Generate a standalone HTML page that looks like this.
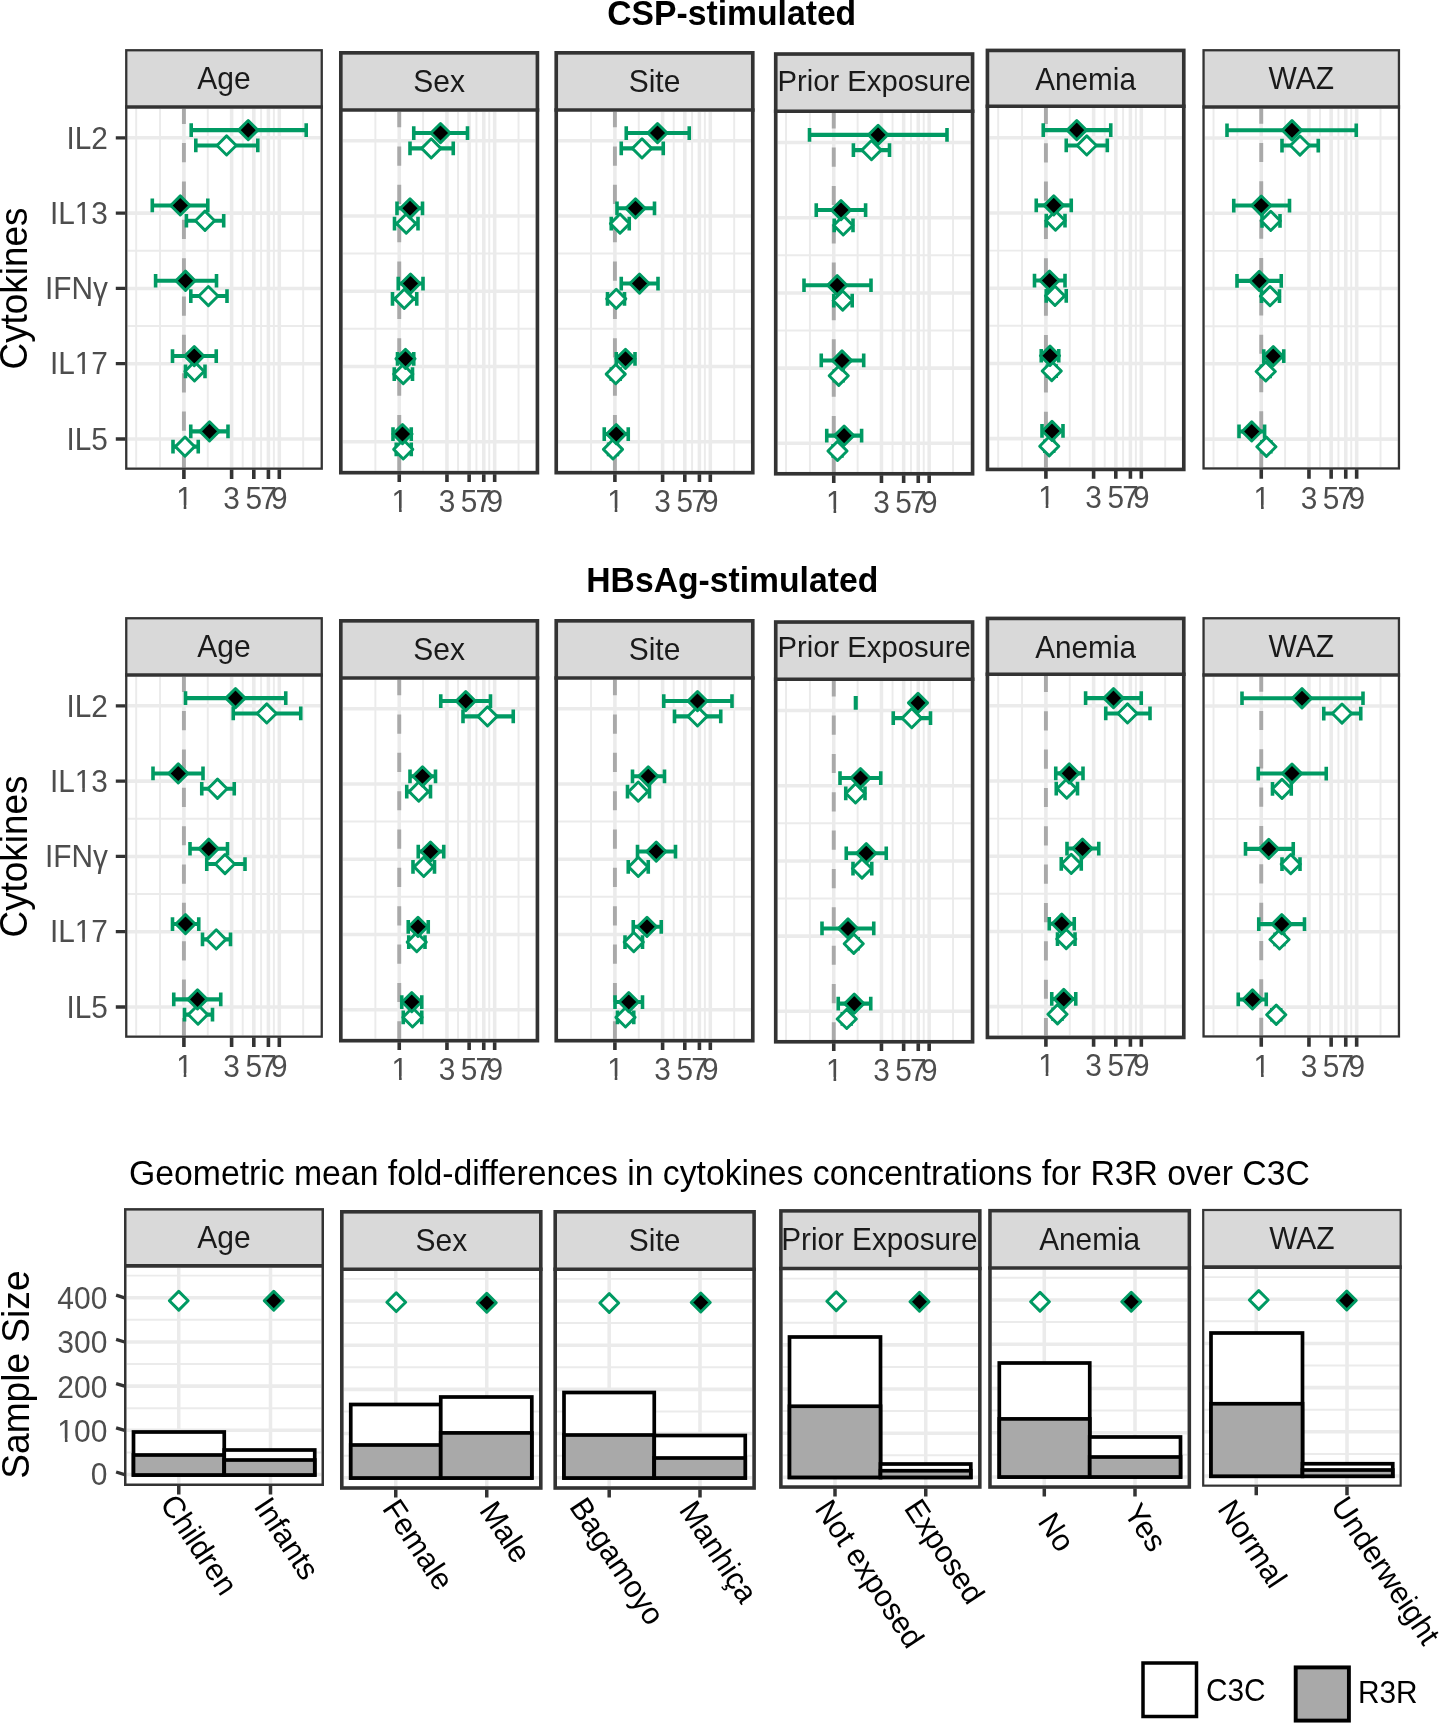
<!DOCTYPE html>
<html><head><meta charset="utf-8"><title>Figure</title>
<style>html,body{margin:0;padding:0;background:#fff}body{width:1440px;height:1723px;overflow:hidden;font-family:"Liberation Sans",sans-serif}svg{display:block;will-change:transform}</style></head>
<body>
<svg width="1440" height="1723" viewBox="0 0 1440 1723" font-family="'Liberation Sans', sans-serif">
<rect width="1440" height="1723" fill="#fff"/>
<text transform="translate(731.75 25) scale(1 1.03)" font-size="33.7" fill="#000" text-anchor="middle" font-weight="bold">CSP-stimulated</text>
<text transform="translate(732.25 592) scale(1 1.03)" font-size="33.7" fill="#000" text-anchor="middle" font-weight="bold">HBsAg-stimulated</text>
<clipPath id="c0Ag"><rect x="127.4" y="108.83" width="193.2" height="358.68"/></clipPath>
<g clip-path="url(#c0Ag)">
<path d="M136.19 108.83V467.5M160.04 108.83V467.5M207.76 108.83V467.5M242.7 108.83V467.5M261.1 108.83V467.5M273.87 108.83V467.5M303.18 108.83V467.5M127.4 250.75H320.6M127.4 326.05H320.6" stroke="#ebebeb" stroke-width="1.95" fill="none"/>
<path d="M183.9 108.83V467.5M231.61 108.83V467.5M253.8 108.83V467.5M268.41 108.83V467.5M279.32 108.83V467.5M127.4 137.8H320.6M127.4 213.1H320.6M127.4 288.4H320.6M127.4 363.7H320.6M127.4 439H320.6" stroke="#ebebeb" stroke-width="3.55" fill="none"/>
<path d="M183.9 469.1V88.83" stroke="#a9a9a9" stroke-width="3.9" stroke-dasharray="19.2 19.15" fill="none"/>
<path d="M191.2 130.15H306.2" fill="none" stroke="#009a63" stroke-width="4.1"/>
<path d="M191.2 123.3V137M306.2 123.3V137" fill="none" stroke="#009a63" stroke-width="3.6"/>
<path d="M195.8 145.45H257.8" fill="none" stroke="#009a63" stroke-width="4.1"/>
<path d="M195.8 138.6V152.3M257.8 138.6V152.3" fill="none" stroke="#009a63" stroke-width="3.6"/>
<path d="M152.3 205.45H207.8" fill="none" stroke="#009a63" stroke-width="4.1"/>
<path d="M152.3 198.6V212.3M207.8 198.6V212.3" fill="none" stroke="#009a63" stroke-width="3.6"/>
<path d="M186.4 220.75H223.7" fill="none" stroke="#009a63" stroke-width="4.1"/>
<path d="M186.4 213.9V227.6M223.7 213.9V227.6" fill="none" stroke="#009a63" stroke-width="3.6"/>
<path d="M155.6 280.75H216.5" fill="none" stroke="#009a63" stroke-width="4.1"/>
<path d="M155.6 273.9V287.6M216.5 273.9V287.6" fill="none" stroke="#009a63" stroke-width="3.6"/>
<path d="M190.8 296.05H227" fill="none" stroke="#009a63" stroke-width="4.1"/>
<path d="M190.8 289.2V302.9M227 289.2V302.9" fill="none" stroke="#009a63" stroke-width="3.6"/>
<path d="M172.5 356.05H216.25" fill="none" stroke="#009a63" stroke-width="4.1"/>
<path d="M172.5 349.2V362.9M216.25 349.2V362.9" fill="none" stroke="#009a63" stroke-width="3.6"/>
<path d="M185.5 371.35H205" fill="none" stroke="#009a63" stroke-width="4.1"/>
<path d="M185.5 364.5V378.2M205 364.5V378.2" fill="none" stroke="#009a63" stroke-width="3.6"/>
<path d="M190.75 431.35H228" fill="none" stroke="#009a63" stroke-width="4.1"/>
<path d="M190.75 424.5V438.2M228 424.5V438.2" fill="none" stroke="#009a63" stroke-width="3.6"/>
<path d="M173 446.65H198.25" fill="none" stroke="#009a63" stroke-width="4.1"/>
<path d="M173 439.8V453.5M198.25 439.8V453.5" fill="none" stroke="#009a63" stroke-width="3.6"/>
<path d="M226.6 135.85L236.2 145.45L226.6 155.05L217 145.45Z" fill="#ffffff" stroke="#009a63" stroke-width="2.9" stroke-linejoin="round"/>
<path d="M205 211.15L214.6 220.75L205 230.35L195.4 220.75Z" fill="#ffffff" stroke="#009a63" stroke-width="2.9" stroke-linejoin="round"/>
<path d="M208.4 286.45L218 296.05L208.4 305.65L198.8 296.05Z" fill="#ffffff" stroke="#009a63" stroke-width="2.9" stroke-linejoin="round"/>
<path d="M194.5 361.75L204.1 371.35L194.5 380.95L184.9 371.35Z" fill="#ffffff" stroke="#009a63" stroke-width="2.9" stroke-linejoin="round"/>
<path d="M185 437.05L194.6 446.65L185 456.25L175.4 446.65Z" fill="#ffffff" stroke="#009a63" stroke-width="2.9" stroke-linejoin="round"/>
<path d="M248.2 120.55L257.8 130.15L248.2 139.75L238.6 130.15Z" fill="#000000" stroke="#009a63" stroke-width="2.9" stroke-linejoin="round"/>
<path d="M180.3 195.85L189.9 205.45L180.3 215.05L170.7 205.45Z" fill="#000000" stroke="#009a63" stroke-width="2.9" stroke-linejoin="round"/>
<path d="M185.5 271.15L195.1 280.75L185.5 290.35L175.9 280.75Z" fill="#000000" stroke="#009a63" stroke-width="2.9" stroke-linejoin="round"/>
<path d="M194.25 346.45L203.85 356.05L194.25 365.65L184.65 356.05Z" fill="#000000" stroke="#009a63" stroke-width="2.9" stroke-linejoin="round"/>
<path d="M209.5 421.75L219.1 431.35L209.5 440.95L199.9 431.35Z" fill="#000000" stroke="#009a63" stroke-width="2.9" stroke-linejoin="round"/>
</g>
<rect x="126.25" y="50.25" width="195.5" height="56.8" fill="#d9d9d9"/>
<rect x="126.25" y="50.25" width="195.5" height="418.4" fill="none" stroke="#333333" stroke-width="2.3"/>
<path d="M125.1 107.05H322.9" stroke="#333333" stroke-width="3.55"/>
<text transform="translate(224 88.7) scale(1 1.03)" font-size="30" fill="#1a1a1a" text-anchor="middle">Age</text>
<path d="M183.9 469.5V479M231.61 469.5V479M253.8 469.5V479M268.41 469.5V479M279.32 469.5V479" stroke="#333333" stroke-width="3.6" fill="none"/>
<text transform="translate(184.5 508.8) scale(1 1.03)" font-size="29.8" fill="#4d4d4d" text-anchor="middle">1</text>
<rect x="176.98" y="505.11" width="6.72" height="4.49" fill="#fff"/>
<rect x="186.34" y="505.11" width="6.49" height="4.49" fill="#fff"/>
<text transform="translate(231.61 508.8) scale(1 1.03)" font-size="29.8" fill="#4d4d4d" text-anchor="middle">3</text>
<text transform="translate(253.8 508.8) scale(1 1.03)" font-size="29.8" fill="#4d4d4d" text-anchor="middle">5</text>
<text transform="translate(268.41 508.8) scale(1 1.03)" font-size="29.8" fill="#4d4d4d" text-anchor="middle">7</text>
<text transform="translate(279.32 508.8) scale(1 1.03)" font-size="29.8" fill="#4d4d4d" text-anchor="middle">9</text>
<clipPath id="c0Se"><rect x="342.65" y="111.78" width="192.95" height="359.08"/></clipPath>
<g clip-path="url(#c0Se)">
<path d="M375.39 111.78V470.85M423.11 111.78V470.85M458.05 111.78V470.85M476.45 111.78V470.85M489.22 111.78V470.85M518.53 111.78V470.85M342.65 253.57H535.6M342.65 328.82H535.6" stroke="#ebebeb" stroke-width="1.95" fill="none"/>
<path d="M399.25 111.78V470.85M446.96 111.78V470.85M469.15 111.78V470.85M483.76 111.78V470.85M494.67 111.78V470.85M342.65 140.7H535.6M342.65 215.95H535.6M342.65 291.2H535.6M342.65 366.45H535.6M342.65 441.7H535.6" stroke="#ebebeb" stroke-width="3.55" fill="none"/>
<path d="M399.25 472.45V91.78" stroke="#a9a9a9" stroke-width="3.9" stroke-dasharray="19.2 19.15" fill="none"/>
<path d="M413.75 133.05H467.5" fill="none" stroke="#009a63" stroke-width="4.1"/>
<path d="M413.75 126.2V139.9M467.5 126.2V139.9" fill="none" stroke="#009a63" stroke-width="3.6"/>
<path d="M410 148.35H453.25" fill="none" stroke="#009a63" stroke-width="4.1"/>
<path d="M410 141.5V155.2M453.25 141.5V155.2" fill="none" stroke="#009a63" stroke-width="3.6"/>
<path d="M397 208.3H422.5" fill="none" stroke="#009a63" stroke-width="4.1"/>
<path d="M397 201.45V215.15M422.5 201.45V215.15" fill="none" stroke="#009a63" stroke-width="3.6"/>
<path d="M394.5 223.6H418" fill="none" stroke="#009a63" stroke-width="4.1"/>
<path d="M394.5 216.75V230.45M418 216.75V230.45" fill="none" stroke="#009a63" stroke-width="3.6"/>
<path d="M398.25 283.55H423" fill="none" stroke="#009a63" stroke-width="4.1"/>
<path d="M398.25 276.7V290.4M423 276.7V290.4" fill="none" stroke="#009a63" stroke-width="3.6"/>
<path d="M392.5 298.85H416.75" fill="none" stroke="#009a63" stroke-width="4.1"/>
<path d="M392.5 292V305.7M416.75 292V305.7" fill="none" stroke="#009a63" stroke-width="3.6"/>
<path d="M397.5 358.8H413.75" fill="none" stroke="#009a63" stroke-width="4.1"/>
<path d="M397.5 351.95V365.65M413.75 351.95V365.65" fill="none" stroke="#009a63" stroke-width="3.6"/>
<path d="M394.25 374.1H412.5" fill="none" stroke="#009a63" stroke-width="4.1"/>
<path d="M394.25 367.25V380.95M412.5 367.25V380.95" fill="none" stroke="#009a63" stroke-width="3.6"/>
<path d="M393 434.05H411.25" fill="none" stroke="#009a63" stroke-width="4.1"/>
<path d="M393 427.2V440.9M411.25 427.2V440.9" fill="none" stroke="#009a63" stroke-width="3.6"/>
<path d="M396.25 449.35H411.25" fill="none" stroke="#009a63" stroke-width="4.1"/>
<path d="M396.25 442.5V456.2M411.25 442.5V456.2" fill="none" stroke="#009a63" stroke-width="3.6"/>
<path d="M431.25 138.75L440.85 148.35L431.25 157.95L421.65 148.35Z" fill="#ffffff" stroke="#009a63" stroke-width="2.9" stroke-linejoin="round"/>
<path d="M406.25 214L415.85 223.6L406.25 233.2L396.65 223.6Z" fill="#ffffff" stroke="#009a63" stroke-width="2.9" stroke-linejoin="round"/>
<path d="M404.25 289.25L413.85 298.85L404.25 308.45L394.65 298.85Z" fill="#ffffff" stroke="#009a63" stroke-width="2.9" stroke-linejoin="round"/>
<path d="M403.25 364.5L412.85 374.1L403.25 383.7L393.65 374.1Z" fill="#ffffff" stroke="#009a63" stroke-width="2.9" stroke-linejoin="round"/>
<path d="M403.25 439.75L412.85 449.35L403.25 458.95L393.65 449.35Z" fill="#ffffff" stroke="#009a63" stroke-width="2.9" stroke-linejoin="round"/>
<path d="M440.5 123.45L450.1 133.05L440.5 142.65L430.9 133.05Z" fill="#000000" stroke="#009a63" stroke-width="2.9" stroke-linejoin="round"/>
<path d="M410 198.7L419.6 208.3L410 217.9L400.4 208.3Z" fill="#000000" stroke="#009a63" stroke-width="2.9" stroke-linejoin="round"/>
<path d="M410.5 273.95L420.1 283.55L410.5 293.15L400.9 283.55Z" fill="#000000" stroke="#009a63" stroke-width="2.9" stroke-linejoin="round"/>
<path d="M405.5 349.2L415.1 358.8L405.5 368.4L395.9 358.8Z" fill="#000000" stroke="#009a63" stroke-width="2.9" stroke-linejoin="round"/>
<path d="M402.5 424.45L412.1 434.05L402.5 443.65L392.9 434.05Z" fill="#000000" stroke="#009a63" stroke-width="2.9" stroke-linejoin="round"/>
</g>
<rect x="340.82" y="52.83" width="196.6" height="57.17" fill="#d9d9d9"/>
<rect x="340.82" y="52.83" width="196.6" height="419.85" fill="none" stroke="#333333" stroke-width="3.65"/>
<path d="M339 110H539.25" stroke="#333333" stroke-width="3.55"/>
<text transform="translate(439.12 91.7) scale(1 1.03)" font-size="30" fill="#1a1a1a" text-anchor="middle">Sex</text>
<path d="M399.25 474.2V482M446.96 474.2V482M469.15 474.2V482M483.76 474.2V482M494.67 474.2V482" stroke="#333333" stroke-width="3.6" fill="none"/>
<text transform="translate(399.85 511.8) scale(1 1.03)" font-size="29.8" fill="#4d4d4d" text-anchor="middle">1</text>
<rect x="392.33" y="508.11" width="6.72" height="4.49" fill="#fff"/>
<rect x="401.69" y="508.11" width="6.49" height="4.49" fill="#fff"/>
<text transform="translate(446.96 511.8) scale(1 1.03)" font-size="29.8" fill="#4d4d4d" text-anchor="middle">3</text>
<text transform="translate(469.15 511.8) scale(1 1.03)" font-size="29.8" fill="#4d4d4d" text-anchor="middle">5</text>
<text transform="translate(483.76 511.8) scale(1 1.03)" font-size="29.8" fill="#4d4d4d" text-anchor="middle">7</text>
<text transform="translate(494.67 511.8) scale(1 1.03)" font-size="29.8" fill="#4d4d4d" text-anchor="middle">9</text>
<clipPath id="c0Si"><rect x="558.05" y="111.78" width="192.9" height="359.08"/></clipPath>
<g clip-path="url(#c0Si)">
<path d="M591.04 111.78V470.85M638.76 111.78V470.85M673.7 111.78V470.85M692.1 111.78V470.85M704.87 111.78V470.85M734.18 111.78V470.85M558.05 253.57H750.95M558.05 328.82H750.95" stroke="#ebebeb" stroke-width="1.95" fill="none"/>
<path d="M614.9 111.78V470.85M662.61 111.78V470.85M684.8 111.78V470.85M699.41 111.78V470.85M710.32 111.78V470.85M558.05 140.7H750.95M558.05 215.95H750.95M558.05 291.2H750.95M558.05 366.45H750.95M558.05 441.7H750.95" stroke="#ebebeb" stroke-width="3.55" fill="none"/>
<path d="M614.9 472.45V91.78" stroke="#a9a9a9" stroke-width="3.9" stroke-dasharray="19.2 19.15" fill="none"/>
<path d="M626.25 133.05H689.25" fill="none" stroke="#009a63" stroke-width="4.1"/>
<path d="M626.25 126.2V139.9M689.25 126.2V139.9" fill="none" stroke="#009a63" stroke-width="3.6"/>
<path d="M621.25 148.35H663.25" fill="none" stroke="#009a63" stroke-width="4.1"/>
<path d="M621.25 141.5V155.2M663.25 141.5V155.2" fill="none" stroke="#009a63" stroke-width="3.6"/>
<path d="M617 208.3H654.5" fill="none" stroke="#009a63" stroke-width="4.1"/>
<path d="M617 201.45V215.15M654.5 201.45V215.15" fill="none" stroke="#009a63" stroke-width="3.6"/>
<path d="M611.25 223.6H629.25" fill="none" stroke="#009a63" stroke-width="4.1"/>
<path d="M611.25 216.75V230.45M629.25 216.75V230.45" fill="none" stroke="#009a63" stroke-width="3.6"/>
<path d="M621.25 283.55H658" fill="none" stroke="#009a63" stroke-width="4.1"/>
<path d="M621.25 276.7V290.4M658 276.7V290.4" fill="none" stroke="#009a63" stroke-width="3.6"/>
<path d="M607.5 298.85H624.5" fill="none" stroke="#009a63" stroke-width="4.1"/>
<path d="M607.5 292V305.7M624.5 292V305.7" fill="none" stroke="#009a63" stroke-width="3.6"/>
<path d="M616.25 358.8H635" fill="none" stroke="#009a63" stroke-width="4.1"/>
<path d="M616.25 351.95V365.65M635 351.95V365.65" fill="none" stroke="#009a63" stroke-width="3.6"/>
<path d="M611.35 374.1H620.15" fill="none" stroke="#009a63" stroke-width="4.1"/>
<path d="M611.35 367.25V380.95M620.15 367.25V380.95" fill="none" stroke="#009a63" stroke-width="3.6"/>
<path d="M604.25 434.05H628.25" fill="none" stroke="#009a63" stroke-width="4.1"/>
<path d="M604.25 427.2V440.9M628.25 427.2V440.9" fill="none" stroke="#009a63" stroke-width="3.6"/>
<path d="M608.6 449.35H617.4" fill="none" stroke="#009a63" stroke-width="4.1"/>
<path d="M608.6 442.5V456.2M617.4 442.5V456.2" fill="none" stroke="#009a63" stroke-width="3.6"/>
<path d="M642 138.75L651.6 148.35L642 157.95L632.4 148.35Z" fill="#ffffff" stroke="#009a63" stroke-width="2.9" stroke-linejoin="round"/>
<path d="M620 214L629.6 223.6L620 233.2L610.4 223.6Z" fill="#ffffff" stroke="#009a63" stroke-width="2.9" stroke-linejoin="round"/>
<path d="M616.25 289.25L625.85 298.85L616.25 308.45L606.65 298.85Z" fill="#ffffff" stroke="#009a63" stroke-width="2.9" stroke-linejoin="round"/>
<path d="M615.75 364.5L625.35 374.1L615.75 383.7L606.15 374.1Z" fill="#ffffff" stroke="#009a63" stroke-width="2.9" stroke-linejoin="round"/>
<path d="M613 439.75L622.6 449.35L613 458.95L603.4 449.35Z" fill="#ffffff" stroke="#009a63" stroke-width="2.9" stroke-linejoin="round"/>
<path d="M657.5 123.45L667.1 133.05L657.5 142.65L647.9 133.05Z" fill="#000000" stroke="#009a63" stroke-width="2.9" stroke-linejoin="round"/>
<path d="M635.5 198.7L645.1 208.3L635.5 217.9L625.9 208.3Z" fill="#000000" stroke="#009a63" stroke-width="2.9" stroke-linejoin="round"/>
<path d="M639.5 273.95L649.1 283.55L639.5 293.15L629.9 283.55Z" fill="#000000" stroke="#009a63" stroke-width="2.9" stroke-linejoin="round"/>
<path d="M625.5 349.2L635.1 358.8L625.5 368.4L615.9 358.8Z" fill="#000000" stroke="#009a63" stroke-width="2.9" stroke-linejoin="round"/>
<path d="M616.25 424.45L625.85 434.05L616.25 443.65L606.65 434.05Z" fill="#000000" stroke="#009a63" stroke-width="2.9" stroke-linejoin="round"/>
</g>
<rect x="556.23" y="52.83" width="196.55" height="57.17" fill="#d9d9d9"/>
<rect x="556.23" y="52.83" width="196.55" height="419.85" fill="none" stroke="#333333" stroke-width="3.65"/>
<path d="M554.4 110H754.6" stroke="#333333" stroke-width="3.55"/>
<text transform="translate(654.5 91.7) scale(1 1.03)" font-size="30" fill="#1a1a1a" text-anchor="middle">Site</text>
<path d="M614.9 474.2V482M662.61 474.2V482M684.8 474.2V482M699.41 474.2V482M710.32 474.2V482" stroke="#333333" stroke-width="3.6" fill="none"/>
<text transform="translate(615.5 511.8) scale(1 1.03)" font-size="29.8" fill="#4d4d4d" text-anchor="middle">1</text>
<rect x="607.98" y="508.11" width="6.72" height="4.49" fill="#fff"/>
<rect x="617.34" y="508.11" width="6.49" height="4.49" fill="#fff"/>
<text transform="translate(662.61 511.8) scale(1 1.03)" font-size="29.8" fill="#4d4d4d" text-anchor="middle">3</text>
<text transform="translate(684.8 511.8) scale(1 1.03)" font-size="29.8" fill="#4d4d4d" text-anchor="middle">5</text>
<text transform="translate(699.41 511.8) scale(1 1.03)" font-size="29.8" fill="#4d4d4d" text-anchor="middle">7</text>
<text transform="translate(710.32 511.8) scale(1 1.03)" font-size="29.8" fill="#4d4d4d" text-anchor="middle">9</text>
<clipPath id="c0Pr"><rect x="777.55" y="112.98" width="193.2" height="358.98"/></clipPath>
<g clip-path="url(#c0Pr)">
<path d="M786.04 112.98V471.95M809.89 112.98V471.95M857.61 112.98V471.95M892.55 112.98V471.95M910.95 112.98V471.95M923.72 112.98V471.95M953.03 112.98V471.95M777.55 255.3H970.75M777.55 330.5H970.75" stroke="#ebebeb" stroke-width="1.95" fill="none"/>
<path d="M833.75 112.98V471.95M881.46 112.98V471.95M903.65 112.98V471.95M918.26 112.98V471.95M929.17 112.98V471.95M777.55 142.5H970.75M777.55 217.7H970.75M777.55 292.9H970.75M777.55 368.1H970.75M777.55 443.3H970.75" stroke="#ebebeb" stroke-width="3.55" fill="none"/>
<path d="M833.75 473.55V92.98" stroke="#a9a9a9" stroke-width="3.9" stroke-dasharray="19.2 19.15" fill="none"/>
<path d="M809.5 134.85H947" fill="none" stroke="#009a63" stroke-width="4.1"/>
<path d="M809.5 128V141.7M947 128V141.7" fill="none" stroke="#009a63" stroke-width="3.6"/>
<path d="M853.4 150.15H889.5" fill="none" stroke="#009a63" stroke-width="4.1"/>
<path d="M853.4 143.3V157M889.5 143.3V157" fill="none" stroke="#009a63" stroke-width="3.6"/>
<path d="M816.25 210.05H865.6" fill="none" stroke="#009a63" stroke-width="4.1"/>
<path d="M816.25 203.2V216.9M865.6 203.2V216.9" fill="none" stroke="#009a63" stroke-width="3.6"/>
<path d="M834.2 225.35H853" fill="none" stroke="#009a63" stroke-width="4.1"/>
<path d="M834.2 218.5V232.2M853 218.5V232.2" fill="none" stroke="#009a63" stroke-width="3.6"/>
<path d="M804 285.25H871" fill="none" stroke="#009a63" stroke-width="4.1"/>
<path d="M804 278.4V292.1M871 278.4V292.1" fill="none" stroke="#009a63" stroke-width="3.6"/>
<path d="M833.75 300.55H852.2" fill="none" stroke="#009a63" stroke-width="4.1"/>
<path d="M833.75 293.7V307.4M852.2 293.7V307.4" fill="none" stroke="#009a63" stroke-width="3.6"/>
<path d="M821.25 360.45H863.7" fill="none" stroke="#009a63" stroke-width="4.1"/>
<path d="M821.25 353.6V367.3M863.7 353.6V367.3" fill="none" stroke="#009a63" stroke-width="3.6"/>
<path d="M834.35 375.75H843.15" fill="none" stroke="#009a63" stroke-width="4.1"/>
<path d="M834.35 368.9V382.6M843.15 368.9V382.6" fill="none" stroke="#009a63" stroke-width="3.6"/>
<path d="M826.75 435.65H861.6" fill="none" stroke="#009a63" stroke-width="4.1"/>
<path d="M826.75 428.8V442.5M861.6 428.8V442.5" fill="none" stroke="#009a63" stroke-width="3.6"/>
<path d="M833.1 450.95H841.9" fill="none" stroke="#009a63" stroke-width="4.1"/>
<path d="M833.1 444.1V457.8M841.9 444.1V457.8" fill="none" stroke="#009a63" stroke-width="3.6"/>
<path d="M871.5 140.55L881.1 150.15L871.5 159.75L861.9 150.15Z" fill="#ffffff" stroke="#009a63" stroke-width="2.9" stroke-linejoin="round"/>
<path d="M843.25 215.75L852.85 225.35L843.25 234.95L833.65 225.35Z" fill="#ffffff" stroke="#009a63" stroke-width="2.9" stroke-linejoin="round"/>
<path d="M842.7 290.95L852.3 300.55L842.7 310.15L833.1 300.55Z" fill="#ffffff" stroke="#009a63" stroke-width="2.9" stroke-linejoin="round"/>
<path d="M838.75 366.15L848.35 375.75L838.75 385.35L829.15 375.75Z" fill="#ffffff" stroke="#009a63" stroke-width="2.9" stroke-linejoin="round"/>
<path d="M837.5 441.35L847.1 450.95L837.5 460.55L827.9 450.95Z" fill="#ffffff" stroke="#009a63" stroke-width="2.9" stroke-linejoin="round"/>
<path d="M878.1 125.25L887.7 134.85L878.1 144.45L868.5 134.85Z" fill="#000000" stroke="#009a63" stroke-width="2.9" stroke-linejoin="round"/>
<path d="M841 200.45L850.6 210.05L841 219.65L831.4 210.05Z" fill="#000000" stroke="#009a63" stroke-width="2.9" stroke-linejoin="round"/>
<path d="M837.2 275.65L846.8 285.25L837.2 294.85L827.6 285.25Z" fill="#000000" stroke="#009a63" stroke-width="2.9" stroke-linejoin="round"/>
<path d="M842 350.85L851.6 360.45L842 370.05L832.4 360.45Z" fill="#000000" stroke="#009a63" stroke-width="2.9" stroke-linejoin="round"/>
<path d="M844.1 426.05L853.7 435.65L844.1 445.25L834.5 435.65Z" fill="#000000" stroke="#009a63" stroke-width="2.9" stroke-linejoin="round"/>
</g>
<rect x="775.73" y="54.03" width="196.85" height="57.17" fill="#d9d9d9"/>
<rect x="775.73" y="54.03" width="196.85" height="419.75" fill="none" stroke="#333333" stroke-width="3.65"/>
<path d="M773.9 111.2H974.4" stroke="#333333" stroke-width="3.55"/>
<text transform="translate(874.15 91.2) scale(1 1.03)" font-size="29.25" fill="#1a1a1a" text-anchor="middle">Prior Exposure</text>
<path d="M833.75 475.3V483.1M881.46 475.3V483.1M903.65 475.3V483.1M918.26 475.3V483.1M929.17 475.3V483.1" stroke="#333333" stroke-width="3.6" fill="none"/>
<text transform="translate(834.35 512.7) scale(1 1.03)" font-size="29.8" fill="#4d4d4d" text-anchor="middle">1</text>
<rect x="826.83" y="509.01" width="6.72" height="4.49" fill="#fff"/>
<rect x="836.19" y="509.01" width="6.49" height="4.49" fill="#fff"/>
<text transform="translate(881.46 512.7) scale(1 1.03)" font-size="29.8" fill="#4d4d4d" text-anchor="middle">3</text>
<text transform="translate(903.65 512.7) scale(1 1.03)" font-size="29.8" fill="#4d4d4d" text-anchor="middle">5</text>
<text transform="translate(918.26 512.7) scale(1 1.03)" font-size="29.8" fill="#4d4d4d" text-anchor="middle">7</text>
<text transform="translate(929.17 512.7) scale(1 1.03)" font-size="29.8" fill="#4d4d4d" text-anchor="middle">9</text>
<clipPath id="c0An"><rect x="989.25" y="108.03" width="192.7" height="359.58"/></clipPath>
<g clip-path="url(#c0An)">
<path d="M998.19 108.03V467.6M1022.04 108.03V467.6M1069.76 108.03V467.6M1104.7 108.03V467.6M1123.1 108.03V467.6M1135.87 108.03V467.6M1165.18 108.03V467.6M989.25 250.6H1181.95M989.25 325.8H1181.95" stroke="#ebebeb" stroke-width="1.95" fill="none"/>
<path d="M1045.9 108.03V467.6M1093.61 108.03V467.6M1115.8 108.03V467.6M1130.41 108.03V467.6M1141.32 108.03V467.6M989.25 137.8H1181.95M989.25 213H1181.95M989.25 288.2H1181.95M989.25 363.4H1181.95M989.25 438.6H1181.95" stroke="#ebebeb" stroke-width="3.55" fill="none"/>
<path d="M1045.9 469.2V88.03" stroke="#a9a9a9" stroke-width="3.9" stroke-dasharray="19.2 19.15" fill="none"/>
<path d="M1043.25 130.15H1110.75" fill="none" stroke="#009a63" stroke-width="4.1"/>
<path d="M1043.25 123.3V137M1110.75 123.3V137" fill="none" stroke="#009a63" stroke-width="3.6"/>
<path d="M1066.25 145.45H1107.3" fill="none" stroke="#009a63" stroke-width="4.1"/>
<path d="M1066.25 138.6V152.3M1107.3 138.6V152.3" fill="none" stroke="#009a63" stroke-width="3.6"/>
<path d="M1036.25 205.35H1071.25" fill="none" stroke="#009a63" stroke-width="4.1"/>
<path d="M1036.25 198.5V212.2M1071.25 198.5V212.2" fill="none" stroke="#009a63" stroke-width="3.6"/>
<path d="M1046.25 220.65H1065" fill="none" stroke="#009a63" stroke-width="4.1"/>
<path d="M1046.25 213.8V227.5M1065 213.8V227.5" fill="none" stroke="#009a63" stroke-width="3.6"/>
<path d="M1034.5 280.55H1065" fill="none" stroke="#009a63" stroke-width="4.1"/>
<path d="M1034.5 273.7V287.4M1065 273.7V287.4" fill="none" stroke="#009a63" stroke-width="3.6"/>
<path d="M1046.25 295.85H1066.25" fill="none" stroke="#009a63" stroke-width="4.1"/>
<path d="M1046.25 289V302.7M1066.25 289V302.7" fill="none" stroke="#009a63" stroke-width="3.6"/>
<path d="M1041.25 355.75H1058.75" fill="none" stroke="#009a63" stroke-width="4.1"/>
<path d="M1041.25 348.9V362.6M1058.75 348.9V362.6" fill="none" stroke="#009a63" stroke-width="3.6"/>
<path d="M1047.35 371.05H1056.15" fill="none" stroke="#009a63" stroke-width="4.1"/>
<path d="M1047.35 364.2V377.9M1056.15 364.2V377.9" fill="none" stroke="#009a63" stroke-width="3.6"/>
<path d="M1042 430.95H1063" fill="none" stroke="#009a63" stroke-width="4.1"/>
<path d="M1042 424.1V437.8M1063 424.1V437.8" fill="none" stroke="#009a63" stroke-width="3.6"/>
<path d="M1044.85 446.25H1053.65" fill="none" stroke="#009a63" stroke-width="4.1"/>
<path d="M1044.85 439.4V453.1M1053.65 439.4V453.1" fill="none" stroke="#009a63" stroke-width="3.6"/>
<path d="M1086.75 135.85L1096.35 145.45L1086.75 155.05L1077.15 145.45Z" fill="#ffffff" stroke="#009a63" stroke-width="2.9" stroke-linejoin="round"/>
<path d="M1055.5 211.05L1065.1 220.65L1055.5 230.25L1045.9 220.65Z" fill="#ffffff" stroke="#009a63" stroke-width="2.9" stroke-linejoin="round"/>
<path d="M1055 286.25L1064.6 295.85L1055 305.45L1045.4 295.85Z" fill="#ffffff" stroke="#009a63" stroke-width="2.9" stroke-linejoin="round"/>
<path d="M1051.75 361.45L1061.35 371.05L1051.75 380.65L1042.15 371.05Z" fill="#ffffff" stroke="#009a63" stroke-width="2.9" stroke-linejoin="round"/>
<path d="M1049.25 436.65L1058.85 446.25L1049.25 455.85L1039.65 446.25Z" fill="#ffffff" stroke="#009a63" stroke-width="2.9" stroke-linejoin="round"/>
<path d="M1076.75 120.55L1086.35 130.15L1076.75 139.75L1067.15 130.15Z" fill="#000000" stroke="#009a63" stroke-width="2.9" stroke-linejoin="round"/>
<path d="M1053.75 195.75L1063.35 205.35L1053.75 214.95L1044.15 205.35Z" fill="#000000" stroke="#009a63" stroke-width="2.9" stroke-linejoin="round"/>
<path d="M1049.5 270.95L1059.1 280.55L1049.5 290.15L1039.9 280.55Z" fill="#000000" stroke="#009a63" stroke-width="2.9" stroke-linejoin="round"/>
<path d="M1050 346.15L1059.6 355.75L1050 365.35L1040.4 355.75Z" fill="#000000" stroke="#009a63" stroke-width="2.9" stroke-linejoin="round"/>
<path d="M1052 421.35L1061.6 430.95L1052 440.55L1042.4 430.95Z" fill="#000000" stroke="#009a63" stroke-width="2.9" stroke-linejoin="round"/>
</g>
<rect x="987.43" y="50.43" width="196.35" height="55.82" fill="#d9d9d9"/>
<rect x="987.43" y="50.43" width="196.35" height="419" fill="none" stroke="#333333" stroke-width="3.65"/>
<path d="M985.6 106.25H1185.6" stroke="#333333" stroke-width="3.55"/>
<text transform="translate(1085.6 89.7) scale(1 1.03)" font-size="29.7" fill="#1a1a1a" text-anchor="middle">Anemia</text>
<path d="M1045.9 470.95V478.75M1093.61 470.95V478.75M1115.8 470.95V478.75M1130.41 470.95V478.75M1141.32 470.95V478.75" stroke="#333333" stroke-width="3.6" fill="none"/>
<text transform="translate(1046.5 508.3) scale(1 1.03)" font-size="29.8" fill="#4d4d4d" text-anchor="middle">1</text>
<rect x="1038.98" y="504.61" width="6.72" height="4.49" fill="#fff"/>
<rect x="1048.34" y="504.61" width="6.49" height="4.49" fill="#fff"/>
<text transform="translate(1093.61 508.3) scale(1 1.03)" font-size="29.8" fill="#4d4d4d" text-anchor="middle">3</text>
<text transform="translate(1115.8 508.3) scale(1 1.03)" font-size="29.8" fill="#4d4d4d" text-anchor="middle">5</text>
<text transform="translate(1130.41 508.3) scale(1 1.03)" font-size="29.8" fill="#4d4d4d" text-anchor="middle">7</text>
<text transform="translate(1141.32 508.3) scale(1 1.03)" font-size="29.8" fill="#4d4d4d" text-anchor="middle">9</text>
<clipPath id="c0WA"><rect x="1204.7" y="108.78" width="193.1" height="358.52"/></clipPath>
<g clip-path="url(#c0WA)">
<path d="M1213.54 108.78V467.3M1237.39 108.78V467.3M1285.11 108.78V467.3M1320.05 108.78V467.3M1338.45 108.78V467.3M1351.22 108.78V467.3M1380.53 108.78V467.3M1204.7 250.85H1397.8M1204.7 326.15H1397.8" stroke="#ebebeb" stroke-width="1.95" fill="none"/>
<path d="M1261.25 108.78V467.3M1308.96 108.78V467.3M1331.15 108.78V467.3M1345.76 108.78V467.3M1356.67 108.78V467.3M1204.7 137.9H1397.8M1204.7 213.2H1397.8M1204.7 288.5H1397.8M1204.7 363.8H1397.8M1204.7 439.1H1397.8" stroke="#ebebeb" stroke-width="3.55" fill="none"/>
<path d="M1261.25 468.9V88.78" stroke="#a9a9a9" stroke-width="3.9" stroke-dasharray="19.2 19.15" fill="none"/>
<path d="M1227 130.25H1356.25" fill="none" stroke="#009a63" stroke-width="4.1"/>
<path d="M1227 123.4V137.1M1356.25 123.4V137.1" fill="none" stroke="#009a63" stroke-width="3.6"/>
<path d="M1282 145.55H1318.25" fill="none" stroke="#009a63" stroke-width="4.1"/>
<path d="M1282 138.7V152.4M1318.25 138.7V152.4" fill="none" stroke="#009a63" stroke-width="3.6"/>
<path d="M1233.75 205.55H1289.5" fill="none" stroke="#009a63" stroke-width="4.1"/>
<path d="M1233.75 198.7V212.4M1289.5 198.7V212.4" fill="none" stroke="#009a63" stroke-width="3.6"/>
<path d="M1262 220.85H1280" fill="none" stroke="#009a63" stroke-width="4.1"/>
<path d="M1262 214V227.7M1280 214V227.7" fill="none" stroke="#009a63" stroke-width="3.6"/>
<path d="M1237 280.85H1281.25" fill="none" stroke="#009a63" stroke-width="4.1"/>
<path d="M1237 274V287.7M1281.25 274V287.7" fill="none" stroke="#009a63" stroke-width="3.6"/>
<path d="M1261.5 296.15H1279.5" fill="none" stroke="#009a63" stroke-width="4.1"/>
<path d="M1261.5 289.3V303M1279.5 289.3V303" fill="none" stroke="#009a63" stroke-width="3.6"/>
<path d="M1263.75 356.15H1283.75" fill="none" stroke="#009a63" stroke-width="4.1"/>
<path d="M1263.75 349.3V363M1283.75 349.3V363" fill="none" stroke="#009a63" stroke-width="3.6"/>
<path d="M1261.35 371.45H1270.15" fill="none" stroke="#009a63" stroke-width="4.1"/>
<path d="M1261.35 364.6V378.3M1270.15 364.6V378.3" fill="none" stroke="#009a63" stroke-width="3.6"/>
<path d="M1239 431.45H1264.6" fill="none" stroke="#009a63" stroke-width="4.1"/>
<path d="M1239 424.6V438.3M1264.6 424.6V438.3" fill="none" stroke="#009a63" stroke-width="3.6"/>
<path d="M1262 446.75H1270.8" fill="none" stroke="#009a63" stroke-width="4.1"/>
<path d="M1262 439.9V453.6M1270.8 439.9V453.6" fill="none" stroke="#009a63" stroke-width="3.6"/>
<path d="M1300 135.95L1309.6 145.55L1300 155.15L1290.4 145.55Z" fill="#ffffff" stroke="#009a63" stroke-width="2.9" stroke-linejoin="round"/>
<path d="M1270.75 211.25L1280.35 220.85L1270.75 230.45L1261.15 220.85Z" fill="#ffffff" stroke="#009a63" stroke-width="2.9" stroke-linejoin="round"/>
<path d="M1270 286.55L1279.6 296.15L1270 305.75L1260.4 296.15Z" fill="#ffffff" stroke="#009a63" stroke-width="2.9" stroke-linejoin="round"/>
<path d="M1265.75 361.85L1275.35 371.45L1265.75 381.05L1256.15 371.45Z" fill="#ffffff" stroke="#009a63" stroke-width="2.9" stroke-linejoin="round"/>
<path d="M1266.4 437.15L1276 446.75L1266.4 456.35L1256.8 446.75Z" fill="#ffffff" stroke="#009a63" stroke-width="2.9" stroke-linejoin="round"/>
<path d="M1292 120.65L1301.6 130.25L1292 139.85L1282.4 130.25Z" fill="#000000" stroke="#009a63" stroke-width="2.9" stroke-linejoin="round"/>
<path d="M1261.25 195.95L1270.85 205.55L1261.25 215.15L1251.65 205.55Z" fill="#000000" stroke="#009a63" stroke-width="2.9" stroke-linejoin="round"/>
<path d="M1259.25 271.25L1268.85 280.85L1259.25 290.45L1249.65 280.85Z" fill="#000000" stroke="#009a63" stroke-width="2.9" stroke-linejoin="round"/>
<path d="M1273.25 346.55L1282.85 356.15L1273.25 365.75L1263.65 356.15Z" fill="#000000" stroke="#009a63" stroke-width="2.9" stroke-linejoin="round"/>
<path d="M1251.7 421.85L1261.3 431.45L1251.7 441.05L1242.1 431.45Z" fill="#000000" stroke="#009a63" stroke-width="2.9" stroke-linejoin="round"/>
</g>
<rect x="1203.55" y="50.25" width="195.4" height="56.75" fill="#d9d9d9"/>
<rect x="1203.55" y="50.25" width="195.4" height="418.2" fill="none" stroke="#333333" stroke-width="2.3"/>
<path d="M1202.4 107H1400.1" stroke="#333333" stroke-width="3.55"/>
<text transform="translate(1301.25 89.3) scale(1 1.03)" font-size="30" fill="#1a1a1a" text-anchor="middle">WAZ</text>
<path d="M1261.25 469.3V478.8M1308.96 469.3V478.8M1331.15 469.3V478.8M1345.76 469.3V478.8M1356.67 469.3V478.8" stroke="#333333" stroke-width="3.6" fill="none"/>
<text transform="translate(1261.85 508.5) scale(1 1.03)" font-size="29.8" fill="#4d4d4d" text-anchor="middle">1</text>
<rect x="1254.33" y="504.81" width="6.72" height="4.49" fill="#fff"/>
<rect x="1263.69" y="504.81" width="6.49" height="4.49" fill="#fff"/>
<text transform="translate(1308.96 508.5) scale(1 1.03)" font-size="29.8" fill="#4d4d4d" text-anchor="middle">3</text>
<text transform="translate(1331.15 508.5) scale(1 1.03)" font-size="29.8" fill="#4d4d4d" text-anchor="middle">5</text>
<text transform="translate(1345.76 508.5) scale(1 1.03)" font-size="29.8" fill="#4d4d4d" text-anchor="middle">7</text>
<text transform="translate(1356.67 508.5) scale(1 1.03)" font-size="29.8" fill="#4d4d4d" text-anchor="middle">9</text>
<path d="M115.8 137.8H125.4M115.8 213.1H125.4M115.8 288.4H125.4M115.8 363.7H125.4M115.8 439H125.4" stroke="#333333" stroke-width="3.3" fill="none"/>
<text transform="translate(107.9 148.5) scale(1 1.03)" font-size="29.8" fill="#4d4d4d" text-anchor="end">IL2</text>
<text transform="translate(107.9 223.8) scale(1 1.03)" font-size="29.8" fill="#4d4d4d" text-anchor="end">IL13</text>
<rect x="75.52" y="220.11" width="6.72" height="4.49" fill="#fff"/>
<rect x="84.88" y="220.11" width="6.49" height="4.49" fill="#fff"/>
<text transform="translate(107.9 299.1) scale(1 1.03)" font-size="29.8" fill="#4d4d4d" text-anchor="end">IFNγ</text>
<text transform="translate(107.9 374.4) scale(1 1.03)" font-size="29.8" fill="#4d4d4d" text-anchor="end">IL17</text>
<rect x="75.52" y="370.71" width="6.72" height="4.49" fill="#fff"/>
<rect x="84.88" y="370.71" width="6.49" height="4.49" fill="#fff"/>
<text transform="translate(107.9 449.7) scale(1 1.03)" font-size="29.8" fill="#4d4d4d" text-anchor="end">IL5</text>
<text transform="translate(27.2 288.5) rotate(-90) scale(1 1.03)" font-size="36.9" fill="#000" text-anchor="middle">Cytokines</text>
<clipPath id="c1Ag"><rect x="127.4" y="676.82" width="193.2" height="358.68"/></clipPath>
<g clip-path="url(#c1Ag)">
<path d="M136.19 676.82V1035.5M160.04 676.82V1035.5M207.76 676.82V1035.5M242.7 676.82V1035.5M261.1 676.82V1035.5M273.87 676.82V1035.5M303.18 676.82V1035.5M127.4 818.75H320.6M127.4 894.05H320.6" stroke="#ebebeb" stroke-width="1.95" fill="none"/>
<path d="M183.9 676.82V1035.5M231.61 676.82V1035.5M253.8 676.82V1035.5M268.41 676.82V1035.5M279.32 676.82V1035.5M127.4 705.8H320.6M127.4 781.1H320.6M127.4 856.4H320.6M127.4 931.7H320.6M127.4 1007H320.6" stroke="#ebebeb" stroke-width="3.55" fill="none"/>
<path d="M183.9 1037.1V656.82" stroke="#a9a9a9" stroke-width="3.9" stroke-dasharray="19.2 19.15" fill="none"/>
<path d="M185.5 698.15H285.75" fill="none" stroke="#009a63" stroke-width="4.1"/>
<path d="M185.5 691.3V705M285.75 691.3V705" fill="none" stroke="#009a63" stroke-width="3.6"/>
<path d="M233.25 713.45H300.75" fill="none" stroke="#009a63" stroke-width="4.1"/>
<path d="M233.25 706.6V720.3M300.75 706.6V720.3" fill="none" stroke="#009a63" stroke-width="3.6"/>
<path d="M153 773.45H203" fill="none" stroke="#009a63" stroke-width="4.1"/>
<path d="M153 766.6V780.3M203 766.6V780.3" fill="none" stroke="#009a63" stroke-width="3.6"/>
<path d="M201.75 788.75H234.25" fill="none" stroke="#009a63" stroke-width="4.1"/>
<path d="M201.75 781.9V795.6M234.25 781.9V795.6" fill="none" stroke="#009a63" stroke-width="3.6"/>
<path d="M190 848.75H227.5" fill="none" stroke="#009a63" stroke-width="4.1"/>
<path d="M190 841.9V855.6M227.5 841.9V855.6" fill="none" stroke="#009a63" stroke-width="3.6"/>
<path d="M206.75 864.05H245" fill="none" stroke="#009a63" stroke-width="4.1"/>
<path d="M206.75 857.2V870.9M245 857.2V870.9" fill="none" stroke="#009a63" stroke-width="3.6"/>
<path d="M172.5 924.05H198.75" fill="none" stroke="#009a63" stroke-width="4.1"/>
<path d="M172.5 917.2V930.9M198.75 917.2V930.9" fill="none" stroke="#009a63" stroke-width="3.6"/>
<path d="M202.5 939.35H230.5" fill="none" stroke="#009a63" stroke-width="4.1"/>
<path d="M202.5 932.5V946.2M230.5 932.5V946.2" fill="none" stroke="#009a63" stroke-width="3.6"/>
<path d="M173.75 999.35H220.75" fill="none" stroke="#009a63" stroke-width="4.1"/>
<path d="M173.75 992.5V1006.2M220.75 992.5V1006.2" fill="none" stroke="#009a63" stroke-width="3.6"/>
<path d="M184.5 1014.65H212.5" fill="none" stroke="#009a63" stroke-width="4.1"/>
<path d="M184.5 1007.8V1021.5M212.5 1007.8V1021.5" fill="none" stroke="#009a63" stroke-width="3.6"/>
<path d="M266.75 703.85L276.35 713.45L266.75 723.05L257.15 713.45Z" fill="#ffffff" stroke="#009a63" stroke-width="2.9" stroke-linejoin="round"/>
<path d="M217.5 779.15L227.1 788.75L217.5 798.35L207.9 788.75Z" fill="#ffffff" stroke="#009a63" stroke-width="2.9" stroke-linejoin="round"/>
<path d="M225 854.45L234.6 864.05L225 873.65L215.4 864.05Z" fill="#ffffff" stroke="#009a63" stroke-width="2.9" stroke-linejoin="round"/>
<path d="M216.25 929.75L225.85 939.35L216.25 948.95L206.65 939.35Z" fill="#ffffff" stroke="#009a63" stroke-width="2.9" stroke-linejoin="round"/>
<path d="M198 1005.05L207.6 1014.65L198 1024.25L188.4 1014.65Z" fill="#ffffff" stroke="#009a63" stroke-width="2.9" stroke-linejoin="round"/>
<path d="M235.5 688.55L245.1 698.15L235.5 707.75L225.9 698.15Z" fill="#000000" stroke="#009a63" stroke-width="2.9" stroke-linejoin="round"/>
<path d="M178.25 763.85L187.85 773.45L178.25 783.05L168.65 773.45Z" fill="#000000" stroke="#009a63" stroke-width="2.9" stroke-linejoin="round"/>
<path d="M208.75 839.15L218.35 848.75L208.75 858.35L199.15 848.75Z" fill="#000000" stroke="#009a63" stroke-width="2.9" stroke-linejoin="round"/>
<path d="M185.5 914.45L195.1 924.05L185.5 933.65L175.9 924.05Z" fill="#000000" stroke="#009a63" stroke-width="2.9" stroke-linejoin="round"/>
<path d="M197.5 989.75L207.1 999.35L197.5 1008.95L187.9 999.35Z" fill="#000000" stroke="#009a63" stroke-width="2.9" stroke-linejoin="round"/>
</g>
<rect x="126.25" y="618.25" width="195.5" height="56.8" fill="#d9d9d9"/>
<rect x="126.25" y="618.25" width="195.5" height="418.4" fill="none" stroke="#333333" stroke-width="2.3"/>
<path d="M125.1 675.05H322.9" stroke="#333333" stroke-width="3.55"/>
<text transform="translate(224 656.7) scale(1 1.03)" font-size="30" fill="#1a1a1a" text-anchor="middle">Age</text>
<path d="M183.9 1037.5V1047M231.61 1037.5V1047M253.8 1037.5V1047M268.41 1037.5V1047M279.32 1037.5V1047" stroke="#333333" stroke-width="3.6" fill="none"/>
<text transform="translate(184.5 1076.8) scale(1 1.03)" font-size="29.8" fill="#4d4d4d" text-anchor="middle">1</text>
<rect x="176.98" y="1073.11" width="6.72" height="4.49" fill="#fff"/>
<rect x="186.34" y="1073.11" width="6.49" height="4.49" fill="#fff"/>
<text transform="translate(231.61 1076.8) scale(1 1.03)" font-size="29.8" fill="#4d4d4d" text-anchor="middle">3</text>
<text transform="translate(253.8 1076.8) scale(1 1.03)" font-size="29.8" fill="#4d4d4d" text-anchor="middle">5</text>
<text transform="translate(268.41 1076.8) scale(1 1.03)" font-size="29.8" fill="#4d4d4d" text-anchor="middle">7</text>
<text transform="translate(279.32 1076.8) scale(1 1.03)" font-size="29.8" fill="#4d4d4d" text-anchor="middle">9</text>
<clipPath id="c1Se"><rect x="342.65" y="679.77" width="192.95" height="359.07"/></clipPath>
<g clip-path="url(#c1Se)">
<path d="M375.39 679.77V1038.85M423.11 679.77V1038.85M458.05 679.77V1038.85M476.45 679.77V1038.85M489.22 679.77V1038.85M518.53 679.77V1038.85M342.65 821.58H535.6M342.65 896.83H535.6" stroke="#ebebeb" stroke-width="1.95" fill="none"/>
<path d="M399.25 679.77V1038.85M446.96 679.77V1038.85M469.15 679.77V1038.85M483.76 679.77V1038.85M494.67 679.77V1038.85M342.65 708.7H535.6M342.65 783.95H535.6M342.65 859.2H535.6M342.65 934.45H535.6M342.65 1009.7H535.6" stroke="#ebebeb" stroke-width="3.55" fill="none"/>
<path d="M399.25 1040.45V659.77" stroke="#a9a9a9" stroke-width="3.9" stroke-dasharray="19.2 19.15" fill="none"/>
<path d="M440.75 701.05H490.5" fill="none" stroke="#009a63" stroke-width="4.1"/>
<path d="M440.75 694.2V707.9M490.5 694.2V707.9" fill="none" stroke="#009a63" stroke-width="3.6"/>
<path d="M463 716.35H513.25" fill="none" stroke="#009a63" stroke-width="4.1"/>
<path d="M463 709.5V723.2M513.25 709.5V723.2" fill="none" stroke="#009a63" stroke-width="3.6"/>
<path d="M410 776.3H435.5" fill="none" stroke="#009a63" stroke-width="4.1"/>
<path d="M410 769.45V783.15M435.5 769.45V783.15" fill="none" stroke="#009a63" stroke-width="3.6"/>
<path d="M406.75 791.6H430.5" fill="none" stroke="#009a63" stroke-width="4.1"/>
<path d="M406.75 784.75V798.45M430.5 784.75V798.45" fill="none" stroke="#009a63" stroke-width="3.6"/>
<path d="M418.25 851.55H443.75" fill="none" stroke="#009a63" stroke-width="4.1"/>
<path d="M418.25 844.7V858.4M443.75 844.7V858.4" fill="none" stroke="#009a63" stroke-width="3.6"/>
<path d="M413 866.85H434.5" fill="none" stroke="#009a63" stroke-width="4.1"/>
<path d="M413 860V873.7M434.5 860V873.7" fill="none" stroke="#009a63" stroke-width="3.6"/>
<path d="M408.25 926.8H428.25" fill="none" stroke="#009a63" stroke-width="4.1"/>
<path d="M408.25 919.95V933.65M428.25 919.95V933.65" fill="none" stroke="#009a63" stroke-width="3.6"/>
<path d="M408.75 942.1H425" fill="none" stroke="#009a63" stroke-width="4.1"/>
<path d="M408.75 935.25V948.95M425 935.25V948.95" fill="none" stroke="#009a63" stroke-width="3.6"/>
<path d="M401.75 1002.05H421.75" fill="none" stroke="#009a63" stroke-width="4.1"/>
<path d="M401.75 995.2V1008.9M421.75 995.2V1008.9" fill="none" stroke="#009a63" stroke-width="3.6"/>
<path d="M403.25 1017.35H421.75" fill="none" stroke="#009a63" stroke-width="4.1"/>
<path d="M403.25 1010.5V1024.2M421.75 1010.5V1024.2" fill="none" stroke="#009a63" stroke-width="3.6"/>
<path d="M487.5 706.75L497.1 716.35L487.5 725.95L477.9 716.35Z" fill="#ffffff" stroke="#009a63" stroke-width="2.9" stroke-linejoin="round"/>
<path d="M418.75 782L428.35 791.6L418.75 801.2L409.15 791.6Z" fill="#ffffff" stroke="#009a63" stroke-width="2.9" stroke-linejoin="round"/>
<path d="M423.75 857.25L433.35 866.85L423.75 876.45L414.15 866.85Z" fill="#ffffff" stroke="#009a63" stroke-width="2.9" stroke-linejoin="round"/>
<path d="M416.75 932.5L426.35 942.1L416.75 951.7L407.15 942.1Z" fill="#ffffff" stroke="#009a63" stroke-width="2.9" stroke-linejoin="round"/>
<path d="M412.5 1007.75L422.1 1017.35L412.5 1026.95L402.9 1017.35Z" fill="#ffffff" stroke="#009a63" stroke-width="2.9" stroke-linejoin="round"/>
<path d="M465.75 691.45L475.35 701.05L465.75 710.65L456.15 701.05Z" fill="#000000" stroke="#009a63" stroke-width="2.9" stroke-linejoin="round"/>
<path d="M422.5 766.7L432.1 776.3L422.5 785.9L412.9 776.3Z" fill="#000000" stroke="#009a63" stroke-width="2.9" stroke-linejoin="round"/>
<path d="M430.5 841.95L440.1 851.55L430.5 861.15L420.9 851.55Z" fill="#000000" stroke="#009a63" stroke-width="2.9" stroke-linejoin="round"/>
<path d="M418 917.2L427.6 926.8L418 936.4L408.4 926.8Z" fill="#000000" stroke="#009a63" stroke-width="2.9" stroke-linejoin="round"/>
<path d="M411.75 992.45L421.35 1002.05L411.75 1011.65L402.15 1002.05Z" fill="#000000" stroke="#009a63" stroke-width="2.9" stroke-linejoin="round"/>
</g>
<rect x="340.82" y="620.83" width="196.6" height="57.17" fill="#d9d9d9"/>
<rect x="340.82" y="620.83" width="196.6" height="419.85" fill="none" stroke="#333333" stroke-width="3.65"/>
<path d="M339 678H539.25" stroke="#333333" stroke-width="3.55"/>
<text transform="translate(439.12 659.7) scale(1 1.03)" font-size="30" fill="#1a1a1a" text-anchor="middle">Sex</text>
<path d="M399.25 1042.2V1050M446.96 1042.2V1050M469.15 1042.2V1050M483.76 1042.2V1050M494.67 1042.2V1050" stroke="#333333" stroke-width="3.6" fill="none"/>
<text transform="translate(399.85 1079.8) scale(1 1.03)" font-size="29.8" fill="#4d4d4d" text-anchor="middle">1</text>
<rect x="392.33" y="1076.11" width="6.72" height="4.49" fill="#fff"/>
<rect x="401.69" y="1076.11" width="6.49" height="4.49" fill="#fff"/>
<text transform="translate(446.96 1079.8) scale(1 1.03)" font-size="29.8" fill="#4d4d4d" text-anchor="middle">3</text>
<text transform="translate(469.15 1079.8) scale(1 1.03)" font-size="29.8" fill="#4d4d4d" text-anchor="middle">5</text>
<text transform="translate(483.76 1079.8) scale(1 1.03)" font-size="29.8" fill="#4d4d4d" text-anchor="middle">7</text>
<text transform="translate(494.67 1079.8) scale(1 1.03)" font-size="29.8" fill="#4d4d4d" text-anchor="middle">9</text>
<clipPath id="c1Si"><rect x="558.05" y="679.77" width="192.9" height="359.07"/></clipPath>
<g clip-path="url(#c1Si)">
<path d="M591.04 679.77V1038.85M638.76 679.77V1038.85M673.7 679.77V1038.85M692.1 679.77V1038.85M704.87 679.77V1038.85M734.18 679.77V1038.85M558.05 821.58H750.95M558.05 896.83H750.95" stroke="#ebebeb" stroke-width="1.95" fill="none"/>
<path d="M614.9 679.77V1038.85M662.61 679.77V1038.85M684.8 679.77V1038.85M699.41 679.77V1038.85M710.32 679.77V1038.85M558.05 708.7H750.95M558.05 783.95H750.95M558.05 859.2H750.95M558.05 934.45H750.95M558.05 1009.7H750.95" stroke="#ebebeb" stroke-width="3.55" fill="none"/>
<path d="M614.9 1040.45V659.77" stroke="#a9a9a9" stroke-width="3.9" stroke-dasharray="19.2 19.15" fill="none"/>
<path d="M663.75 701.05H732" fill="none" stroke="#009a63" stroke-width="4.1"/>
<path d="M663.75 694.2V707.9M732 694.2V707.9" fill="none" stroke="#009a63" stroke-width="3.6"/>
<path d="M674.5 716.35H720.75" fill="none" stroke="#009a63" stroke-width="4.1"/>
<path d="M674.5 709.5V723.2M720.75 709.5V723.2" fill="none" stroke="#009a63" stroke-width="3.6"/>
<path d="M632.5 776.3H664.5" fill="none" stroke="#009a63" stroke-width="4.1"/>
<path d="M632.5 769.45V783.15M664.5 769.45V783.15" fill="none" stroke="#009a63" stroke-width="3.6"/>
<path d="M627.5 791.6H649.5" fill="none" stroke="#009a63" stroke-width="4.1"/>
<path d="M627.5 784.75V798.45M649.5 784.75V798.45" fill="none" stroke="#009a63" stroke-width="3.6"/>
<path d="M637.5 851.55H675.5" fill="none" stroke="#009a63" stroke-width="4.1"/>
<path d="M637.5 844.7V858.4M675.5 844.7V858.4" fill="none" stroke="#009a63" stroke-width="3.6"/>
<path d="M628.25 866.85H648.25" fill="none" stroke="#009a63" stroke-width="4.1"/>
<path d="M628.25 860V873.7M648.25 860V873.7" fill="none" stroke="#009a63" stroke-width="3.6"/>
<path d="M633.25 926.8H661.25" fill="none" stroke="#009a63" stroke-width="4.1"/>
<path d="M633.25 919.95V933.65M661.25 919.95V933.65" fill="none" stroke="#009a63" stroke-width="3.6"/>
<path d="M625 942.1H642.5" fill="none" stroke="#009a63" stroke-width="4.1"/>
<path d="M625 935.25V948.95M642.5 935.25V948.95" fill="none" stroke="#009a63" stroke-width="3.6"/>
<path d="M615 1002.05H642.5" fill="none" stroke="#009a63" stroke-width="4.1"/>
<path d="M615 995.2V1008.9M642.5 995.2V1008.9" fill="none" stroke="#009a63" stroke-width="3.6"/>
<path d="M617.5 1017.35H633.75" fill="none" stroke="#009a63" stroke-width="4.1"/>
<path d="M617.5 1010.5V1024.2M633.75 1010.5V1024.2" fill="none" stroke="#009a63" stroke-width="3.6"/>
<path d="M697.5 706.75L707.1 716.35L697.5 725.95L687.9 716.35Z" fill="#ffffff" stroke="#009a63" stroke-width="2.9" stroke-linejoin="round"/>
<path d="M638.25 782L647.85 791.6L638.25 801.2L628.65 791.6Z" fill="#ffffff" stroke="#009a63" stroke-width="2.9" stroke-linejoin="round"/>
<path d="M638.25 857.25L647.85 866.85L638.25 876.45L628.65 866.85Z" fill="#ffffff" stroke="#009a63" stroke-width="2.9" stroke-linejoin="round"/>
<path d="M633.75 932.5L643.35 942.1L633.75 951.7L624.15 942.1Z" fill="#ffffff" stroke="#009a63" stroke-width="2.9" stroke-linejoin="round"/>
<path d="M625.5 1007.75L635.1 1017.35L625.5 1026.95L615.9 1017.35Z" fill="#ffffff" stroke="#009a63" stroke-width="2.9" stroke-linejoin="round"/>
<path d="M697.5 691.45L707.1 701.05L697.5 710.65L687.9 701.05Z" fill="#000000" stroke="#009a63" stroke-width="2.9" stroke-linejoin="round"/>
<path d="M648.25 766.7L657.85 776.3L648.25 785.9L638.65 776.3Z" fill="#000000" stroke="#009a63" stroke-width="2.9" stroke-linejoin="round"/>
<path d="M656.25 841.95L665.85 851.55L656.25 861.15L646.65 851.55Z" fill="#000000" stroke="#009a63" stroke-width="2.9" stroke-linejoin="round"/>
<path d="M647 917.2L656.6 926.8L647 936.4L637.4 926.8Z" fill="#000000" stroke="#009a63" stroke-width="2.9" stroke-linejoin="round"/>
<path d="M628.75 992.45L638.35 1002.05L628.75 1011.65L619.15 1002.05Z" fill="#000000" stroke="#009a63" stroke-width="2.9" stroke-linejoin="round"/>
</g>
<rect x="556.23" y="620.83" width="196.55" height="57.17" fill="#d9d9d9"/>
<rect x="556.23" y="620.83" width="196.55" height="419.85" fill="none" stroke="#333333" stroke-width="3.65"/>
<path d="M554.4 678H754.6" stroke="#333333" stroke-width="3.55"/>
<text transform="translate(654.5 659.7) scale(1 1.03)" font-size="30" fill="#1a1a1a" text-anchor="middle">Site</text>
<path d="M614.9 1042.2V1050M662.61 1042.2V1050M684.8 1042.2V1050M699.41 1042.2V1050M710.32 1042.2V1050" stroke="#333333" stroke-width="3.6" fill="none"/>
<text transform="translate(615.5 1079.8) scale(1 1.03)" font-size="29.8" fill="#4d4d4d" text-anchor="middle">1</text>
<rect x="607.98" y="1076.11" width="6.72" height="4.49" fill="#fff"/>
<rect x="617.34" y="1076.11" width="6.49" height="4.49" fill="#fff"/>
<text transform="translate(662.61 1079.8) scale(1 1.03)" font-size="29.8" fill="#4d4d4d" text-anchor="middle">3</text>
<text transform="translate(684.8 1079.8) scale(1 1.03)" font-size="29.8" fill="#4d4d4d" text-anchor="middle">5</text>
<text transform="translate(699.41 1079.8) scale(1 1.03)" font-size="29.8" fill="#4d4d4d" text-anchor="middle">7</text>
<text transform="translate(710.32 1079.8) scale(1 1.03)" font-size="29.8" fill="#4d4d4d" text-anchor="middle">9</text>
<clipPath id="c1Pr"><rect x="777.55" y="680.98" width="193.2" height="358.97"/></clipPath>
<g clip-path="url(#c1Pr)">
<path d="M786.04 680.98V1039.95M809.89 680.98V1039.95M857.61 680.98V1039.95M892.55 680.98V1039.95M910.95 680.98V1039.95M923.72 680.98V1039.95M953.03 680.98V1039.95M777.55 823.3H970.75M777.55 898.5H970.75" stroke="#ebebeb" stroke-width="1.95" fill="none"/>
<path d="M833.75 680.98V1039.95M881.46 680.98V1039.95M903.65 680.98V1039.95M918.26 680.98V1039.95M929.17 680.98V1039.95M777.55 710.5H970.75M777.55 785.7H970.75M777.55 860.9H970.75M777.55 936.1H970.75M777.55 1011.3H970.75" stroke="#ebebeb" stroke-width="3.55" fill="none"/>
<path d="M833.75 1041.55V660.98" stroke="#a9a9a9" stroke-width="3.9" stroke-dasharray="19.2 19.15" fill="none"/>
<path d="M855.75 696V709.7" stroke="#009a63" stroke-width="4.1"/>
<path d="M893.25 718.15H930.5" fill="none" stroke="#009a63" stroke-width="4.1"/>
<path d="M893.25 711.3V725M930.5 711.3V725" fill="none" stroke="#009a63" stroke-width="3.6"/>
<path d="M840 778.05H880.75" fill="none" stroke="#009a63" stroke-width="4.1"/>
<path d="M840 771.2V784.9M880.75 771.2V784.9" fill="none" stroke="#009a63" stroke-width="3.6"/>
<path d="M845.75 793.35H865" fill="none" stroke="#009a63" stroke-width="4.1"/>
<path d="M845.75 786.5V800.2M865 786.5V800.2" fill="none" stroke="#009a63" stroke-width="3.6"/>
<path d="M846.25 853.25H886.25" fill="none" stroke="#009a63" stroke-width="4.1"/>
<path d="M846.25 846.4V860.1M886.25 846.4V860.1" fill="none" stroke="#009a63" stroke-width="3.6"/>
<path d="M853 868.55H871.75" fill="none" stroke="#009a63" stroke-width="4.1"/>
<path d="M853 861.7V875.4M871.75 861.7V875.4" fill="none" stroke="#009a63" stroke-width="3.6"/>
<path d="M822 928.45H873.75" fill="none" stroke="#009a63" stroke-width="4.1"/>
<path d="M822 921.6V935.3M873.75 921.6V935.3" fill="none" stroke="#009a63" stroke-width="3.6"/>
<path d="M849.35 943.75H858.15" fill="none" stroke="#009a63" stroke-width="4.1"/>
<path d="M849.35 936.9V950.6M858.15 936.9V950.6" fill="none" stroke="#009a63" stroke-width="3.6"/>
<path d="M838.25 1003.65H870.75" fill="none" stroke="#009a63" stroke-width="4.1"/>
<path d="M838.25 996.8V1010.5M870.75 996.8V1010.5" fill="none" stroke="#009a63" stroke-width="3.6"/>
<path d="M842.35 1018.95H851.15" fill="none" stroke="#009a63" stroke-width="4.1"/>
<path d="M842.35 1012.1V1025.8M851.15 1012.1V1025.8" fill="none" stroke="#009a63" stroke-width="3.6"/>
<path d="M911.75 708.55L921.35 718.15L911.75 727.75L902.15 718.15Z" fill="#ffffff" stroke="#009a63" stroke-width="2.9" stroke-linejoin="round"/>
<path d="M855.5 783.75L865.1 793.35L855.5 802.95L845.9 793.35Z" fill="#ffffff" stroke="#009a63" stroke-width="2.9" stroke-linejoin="round"/>
<path d="M862 858.95L871.6 868.55L862 878.15L852.4 868.55Z" fill="#ffffff" stroke="#009a63" stroke-width="2.9" stroke-linejoin="round"/>
<path d="M853.75 934.15L863.35 943.75L853.75 953.35L844.15 943.75Z" fill="#ffffff" stroke="#009a63" stroke-width="2.9" stroke-linejoin="round"/>
<path d="M846.75 1009.35L856.35 1018.95L846.75 1028.55L837.15 1018.95Z" fill="#ffffff" stroke="#009a63" stroke-width="2.9" stroke-linejoin="round"/>
<path d="M918 693.25L927.6 702.85L918 712.45L908.4 702.85Z" fill="#000000" stroke="#009a63" stroke-width="2.9" stroke-linejoin="round"/>
<path d="M860.5 768.45L870.1 778.05L860.5 787.65L850.9 778.05Z" fill="#000000" stroke="#009a63" stroke-width="2.9" stroke-linejoin="round"/>
<path d="M866.25 843.65L875.85 853.25L866.25 862.85L856.65 853.25Z" fill="#000000" stroke="#009a63" stroke-width="2.9" stroke-linejoin="round"/>
<path d="M848 918.85L857.6 928.45L848 938.05L838.4 928.45Z" fill="#000000" stroke="#009a63" stroke-width="2.9" stroke-linejoin="round"/>
<path d="M854.25 994.05L863.85 1003.65L854.25 1013.25L844.65 1003.65Z" fill="#000000" stroke="#009a63" stroke-width="2.9" stroke-linejoin="round"/>
</g>
<rect x="775.73" y="622.03" width="196.85" height="57.17" fill="#d9d9d9"/>
<rect x="775.73" y="622.03" width="196.85" height="419.75" fill="none" stroke="#333333" stroke-width="3.65"/>
<path d="M773.9 679.2H974.4" stroke="#333333" stroke-width="3.55"/>
<text transform="translate(874.15 657.2) scale(1 1.03)" font-size="29.25" fill="#1a1a1a" text-anchor="middle">Prior Exposure</text>
<path d="M833.75 1043.3V1051.1M881.46 1043.3V1051.1M903.65 1043.3V1051.1M918.26 1043.3V1051.1M929.17 1043.3V1051.1" stroke="#333333" stroke-width="3.6" fill="none"/>
<text transform="translate(834.35 1080.7) scale(1 1.03)" font-size="29.8" fill="#4d4d4d" text-anchor="middle">1</text>
<rect x="826.83" y="1077.01" width="6.72" height="4.49" fill="#fff"/>
<rect x="836.19" y="1077.01" width="6.49" height="4.49" fill="#fff"/>
<text transform="translate(881.46 1080.7) scale(1 1.03)" font-size="29.8" fill="#4d4d4d" text-anchor="middle">3</text>
<text transform="translate(903.65 1080.7) scale(1 1.03)" font-size="29.8" fill="#4d4d4d" text-anchor="middle">5</text>
<text transform="translate(918.26 1080.7) scale(1 1.03)" font-size="29.8" fill="#4d4d4d" text-anchor="middle">7</text>
<text transform="translate(929.17 1080.7) scale(1 1.03)" font-size="29.8" fill="#4d4d4d" text-anchor="middle">9</text>
<clipPath id="c1An"><rect x="989.25" y="676.02" width="192.7" height="359.57"/></clipPath>
<g clip-path="url(#c1An)">
<path d="M998.19 676.02V1035.6M1022.04 676.02V1035.6M1069.76 676.02V1035.6M1104.7 676.02V1035.6M1123.1 676.02V1035.6M1135.87 676.02V1035.6M1165.18 676.02V1035.6M989.25 818.6H1181.95M989.25 893.8H1181.95" stroke="#ebebeb" stroke-width="1.95" fill="none"/>
<path d="M1045.9 676.02V1035.6M1093.61 676.02V1035.6M1115.8 676.02V1035.6M1130.41 676.02V1035.6M1141.32 676.02V1035.6M989.25 705.8H1181.95M989.25 781H1181.95M989.25 856.2H1181.95M989.25 931.4H1181.95M989.25 1006.6H1181.95" stroke="#ebebeb" stroke-width="3.55" fill="none"/>
<path d="M1045.9 1037.2V656.02" stroke="#a9a9a9" stroke-width="3.9" stroke-dasharray="19.2 19.15" fill="none"/>
<path d="M1085.6 698.15H1141.25" fill="none" stroke="#009a63" stroke-width="4.1"/>
<path d="M1085.6 691.3V705M1141.25 691.3V705" fill="none" stroke="#009a63" stroke-width="3.6"/>
<path d="M1105.75 713.45H1150" fill="none" stroke="#009a63" stroke-width="4.1"/>
<path d="M1105.75 706.6V720.3M1150 706.6V720.3" fill="none" stroke="#009a63" stroke-width="3.6"/>
<path d="M1055.75 773.35H1083" fill="none" stroke="#009a63" stroke-width="4.1"/>
<path d="M1055.75 766.5V780.2M1083 766.5V780.2" fill="none" stroke="#009a63" stroke-width="3.6"/>
<path d="M1056.25 788.65H1077.5" fill="none" stroke="#009a63" stroke-width="4.1"/>
<path d="M1056.25 781.8V795.5M1077.5 781.8V795.5" fill="none" stroke="#009a63" stroke-width="3.6"/>
<path d="M1067 848.55H1098.75" fill="none" stroke="#009a63" stroke-width="4.1"/>
<path d="M1067 841.7V855.4M1098.75 841.7V855.4" fill="none" stroke="#009a63" stroke-width="3.6"/>
<path d="M1061.25 863.85H1081.25" fill="none" stroke="#009a63" stroke-width="4.1"/>
<path d="M1061.25 857V870.7M1081.25 857V870.7" fill="none" stroke="#009a63" stroke-width="3.6"/>
<path d="M1049.25 923.75H1074.25" fill="none" stroke="#009a63" stroke-width="4.1"/>
<path d="M1049.25 916.9V930.6M1074.25 916.9V930.6" fill="none" stroke="#009a63" stroke-width="3.6"/>
<path d="M1057.5 939.05H1075" fill="none" stroke="#009a63" stroke-width="4.1"/>
<path d="M1057.5 932.2V945.9M1075 932.2V945.9" fill="none" stroke="#009a63" stroke-width="3.6"/>
<path d="M1051.75 998.95H1075.75" fill="none" stroke="#009a63" stroke-width="4.1"/>
<path d="M1051.75 992.1V1005.8M1075.75 992.1V1005.8" fill="none" stroke="#009a63" stroke-width="3.6"/>
<path d="M1053.1 1014.25H1061.9" fill="none" stroke="#009a63" stroke-width="4.1"/>
<path d="M1053.1 1007.4V1021.1M1061.9 1007.4V1021.1" fill="none" stroke="#009a63" stroke-width="3.6"/>
<path d="M1127.5 703.85L1137.1 713.45L1127.5 723.05L1117.9 713.45Z" fill="#ffffff" stroke="#009a63" stroke-width="2.9" stroke-linejoin="round"/>
<path d="M1066.75 779.05L1076.35 788.65L1066.75 798.25L1057.15 788.65Z" fill="#ffffff" stroke="#009a63" stroke-width="2.9" stroke-linejoin="round"/>
<path d="M1071.25 854.25L1080.85 863.85L1071.25 873.45L1061.65 863.85Z" fill="#ffffff" stroke="#009a63" stroke-width="2.9" stroke-linejoin="round"/>
<path d="M1066.25 929.45L1075.85 939.05L1066.25 948.65L1056.65 939.05Z" fill="#ffffff" stroke="#009a63" stroke-width="2.9" stroke-linejoin="round"/>
<path d="M1057.5 1004.65L1067.1 1014.25L1057.5 1023.85L1047.9 1014.25Z" fill="#ffffff" stroke="#009a63" stroke-width="2.9" stroke-linejoin="round"/>
<path d="M1113.5 688.55L1123.1 698.15L1113.5 707.75L1103.9 698.15Z" fill="#000000" stroke="#009a63" stroke-width="2.9" stroke-linejoin="round"/>
<path d="M1069.25 763.75L1078.85 773.35L1069.25 782.95L1059.65 773.35Z" fill="#000000" stroke="#009a63" stroke-width="2.9" stroke-linejoin="round"/>
<path d="M1082.5 838.95L1092.1 848.55L1082.5 858.15L1072.9 848.55Z" fill="#000000" stroke="#009a63" stroke-width="2.9" stroke-linejoin="round"/>
<path d="M1061.75 914.15L1071.35 923.75L1061.75 933.35L1052.15 923.75Z" fill="#000000" stroke="#009a63" stroke-width="2.9" stroke-linejoin="round"/>
<path d="M1063.75 989.35L1073.35 998.95L1063.75 1008.55L1054.15 998.95Z" fill="#000000" stroke="#009a63" stroke-width="2.9" stroke-linejoin="round"/>
</g>
<rect x="987.43" y="618.43" width="196.35" height="55.82" fill="#d9d9d9"/>
<rect x="987.43" y="618.43" width="196.35" height="419" fill="none" stroke="#333333" stroke-width="3.65"/>
<path d="M985.6 674.25H1185.6" stroke="#333333" stroke-width="3.55"/>
<text transform="translate(1085.6 657.7) scale(1 1.03)" font-size="29.7" fill="#1a1a1a" text-anchor="middle">Anemia</text>
<path d="M1045.9 1038.95V1046.75M1093.61 1038.95V1046.75M1115.8 1038.95V1046.75M1130.41 1038.95V1046.75M1141.32 1038.95V1046.75" stroke="#333333" stroke-width="3.6" fill="none"/>
<text transform="translate(1046.5 1076.3) scale(1 1.03)" font-size="29.8" fill="#4d4d4d" text-anchor="middle">1</text>
<rect x="1038.98" y="1072.61" width="6.72" height="4.49" fill="#fff"/>
<rect x="1048.34" y="1072.61" width="6.49" height="4.49" fill="#fff"/>
<text transform="translate(1093.61 1076.3) scale(1 1.03)" font-size="29.8" fill="#4d4d4d" text-anchor="middle">3</text>
<text transform="translate(1115.8 1076.3) scale(1 1.03)" font-size="29.8" fill="#4d4d4d" text-anchor="middle">5</text>
<text transform="translate(1130.41 1076.3) scale(1 1.03)" font-size="29.8" fill="#4d4d4d" text-anchor="middle">7</text>
<text transform="translate(1141.32 1076.3) scale(1 1.03)" font-size="29.8" fill="#4d4d4d" text-anchor="middle">9</text>
<clipPath id="c1WA"><rect x="1204.7" y="676.77" width="193.1" height="358.52"/></clipPath>
<g clip-path="url(#c1WA)">
<path d="M1213.54 676.77V1035.3M1237.39 676.77V1035.3M1285.11 676.77V1035.3M1320.05 676.77V1035.3M1338.45 676.77V1035.3M1351.22 676.77V1035.3M1380.53 676.77V1035.3M1204.7 818.85H1397.8M1204.7 894.15H1397.8" stroke="#ebebeb" stroke-width="1.95" fill="none"/>
<path d="M1261.25 676.77V1035.3M1308.96 676.77V1035.3M1331.15 676.77V1035.3M1345.76 676.77V1035.3M1356.67 676.77V1035.3M1204.7 705.9H1397.8M1204.7 781.2H1397.8M1204.7 856.5H1397.8M1204.7 931.8H1397.8M1204.7 1007.1H1397.8" stroke="#ebebeb" stroke-width="3.55" fill="none"/>
<path d="M1261.25 1036.9V656.77" stroke="#a9a9a9" stroke-width="3.9" stroke-dasharray="19.2 19.15" fill="none"/>
<path d="M1242 698.25H1363" fill="none" stroke="#009a63" stroke-width="4.1"/>
<path d="M1242 691.4V705.1M1363 691.4V705.1" fill="none" stroke="#009a63" stroke-width="3.6"/>
<path d="M1323.75 713.55H1360.75" fill="none" stroke="#009a63" stroke-width="4.1"/>
<path d="M1323.75 706.7V720.4M1360.75 706.7V720.4" fill="none" stroke="#009a63" stroke-width="3.6"/>
<path d="M1258.25 773.55H1326.25" fill="none" stroke="#009a63" stroke-width="4.1"/>
<path d="M1258.25 766.7V780.4M1326.25 766.7V780.4" fill="none" stroke="#009a63" stroke-width="3.6"/>
<path d="M1272.5 788.85H1291.25" fill="none" stroke="#009a63" stroke-width="4.1"/>
<path d="M1272.5 782V795.7M1291.25 782V795.7" fill="none" stroke="#009a63" stroke-width="3.6"/>
<path d="M1245.5 848.85H1293.25" fill="none" stroke="#009a63" stroke-width="4.1"/>
<path d="M1245.5 842V855.7M1293.25 842V855.7" fill="none" stroke="#009a63" stroke-width="3.6"/>
<path d="M1282 864.15H1300" fill="none" stroke="#009a63" stroke-width="4.1"/>
<path d="M1282 857.3V871M1300 857.3V871" fill="none" stroke="#009a63" stroke-width="3.6"/>
<path d="M1258.75 924.15H1304.5" fill="none" stroke="#009a63" stroke-width="4.1"/>
<path d="M1258.75 917.3V931M1304.5 917.3V931" fill="none" stroke="#009a63" stroke-width="3.6"/>
<path d="M1275.1 939.45H1283.9" fill="none" stroke="#009a63" stroke-width="4.1"/>
<path d="M1275.1 932.6V946.3M1283.9 932.6V946.3" fill="none" stroke="#009a63" stroke-width="3.6"/>
<path d="M1238.25 999.45H1266.25" fill="none" stroke="#009a63" stroke-width="4.1"/>
<path d="M1238.25 992.6V1006.3M1266.25 992.6V1006.3" fill="none" stroke="#009a63" stroke-width="3.6"/>
<path d="M1271.85 1014.75H1280.65" fill="none" stroke="#009a63" stroke-width="4.1"/>
<path d="M1271.85 1007.9V1021.6M1280.65 1007.9V1021.6" fill="none" stroke="#009a63" stroke-width="3.6"/>
<path d="M1342 703.95L1351.6 713.55L1342 723.15L1332.4 713.55Z" fill="#ffffff" stroke="#009a63" stroke-width="2.9" stroke-linejoin="round"/>
<path d="M1282 779.25L1291.6 788.85L1282 798.45L1272.4 788.85Z" fill="#ffffff" stroke="#009a63" stroke-width="2.9" stroke-linejoin="round"/>
<path d="M1290.75 854.55L1300.35 864.15L1290.75 873.75L1281.15 864.15Z" fill="#ffffff" stroke="#009a63" stroke-width="2.9" stroke-linejoin="round"/>
<path d="M1279.5 929.85L1289.1 939.45L1279.5 949.05L1269.9 939.45Z" fill="#ffffff" stroke="#009a63" stroke-width="2.9" stroke-linejoin="round"/>
<path d="M1276.25 1005.15L1285.85 1014.75L1276.25 1024.35L1266.65 1014.75Z" fill="#ffffff" stroke="#009a63" stroke-width="2.9" stroke-linejoin="round"/>
<path d="M1302 688.65L1311.6 698.25L1302 707.85L1292.4 698.25Z" fill="#000000" stroke="#009a63" stroke-width="2.9" stroke-linejoin="round"/>
<path d="M1292 763.95L1301.6 773.55L1292 783.15L1282.4 773.55Z" fill="#000000" stroke="#009a63" stroke-width="2.9" stroke-linejoin="round"/>
<path d="M1268.75 839.25L1278.35 848.85L1268.75 858.45L1259.15 848.85Z" fill="#000000" stroke="#009a63" stroke-width="2.9" stroke-linejoin="round"/>
<path d="M1281.75 914.55L1291.35 924.15L1281.75 933.75L1272.15 924.15Z" fill="#000000" stroke="#009a63" stroke-width="2.9" stroke-linejoin="round"/>
<path d="M1252.5 989.85L1262.1 999.45L1252.5 1009.05L1242.9 999.45Z" fill="#000000" stroke="#009a63" stroke-width="2.9" stroke-linejoin="round"/>
</g>
<rect x="1203.55" y="618.25" width="195.4" height="56.75" fill="#d9d9d9"/>
<rect x="1203.55" y="618.25" width="195.4" height="418.2" fill="none" stroke="#333333" stroke-width="2.3"/>
<path d="M1202.4 675H1400.1" stroke="#333333" stroke-width="3.55"/>
<text transform="translate(1301.25 657.3) scale(1 1.03)" font-size="30" fill="#1a1a1a" text-anchor="middle">WAZ</text>
<path d="M1261.25 1037.3V1046.8M1308.96 1037.3V1046.8M1331.15 1037.3V1046.8M1345.76 1037.3V1046.8M1356.67 1037.3V1046.8" stroke="#333333" stroke-width="3.6" fill="none"/>
<text transform="translate(1261.85 1076.5) scale(1 1.03)" font-size="29.8" fill="#4d4d4d" text-anchor="middle">1</text>
<rect x="1254.33" y="1072.81" width="6.72" height="4.49" fill="#fff"/>
<rect x="1263.69" y="1072.81" width="6.49" height="4.49" fill="#fff"/>
<text transform="translate(1308.96 1076.5) scale(1 1.03)" font-size="29.8" fill="#4d4d4d" text-anchor="middle">3</text>
<text transform="translate(1331.15 1076.5) scale(1 1.03)" font-size="29.8" fill="#4d4d4d" text-anchor="middle">5</text>
<text transform="translate(1345.76 1076.5) scale(1 1.03)" font-size="29.8" fill="#4d4d4d" text-anchor="middle">7</text>
<text transform="translate(1356.67 1076.5) scale(1 1.03)" font-size="29.8" fill="#4d4d4d" text-anchor="middle">9</text>
<path d="M115.8 705.8H125.4M115.8 781.1H125.4M115.8 856.4H125.4M115.8 931.7H125.4M115.8 1007H125.4" stroke="#333333" stroke-width="3.3" fill="none"/>
<text transform="translate(107.9 716.5) scale(1 1.03)" font-size="29.8" fill="#4d4d4d" text-anchor="end">IL2</text>
<text transform="translate(107.9 791.8) scale(1 1.03)" font-size="29.8" fill="#4d4d4d" text-anchor="end">IL13</text>
<rect x="75.52" y="788.11" width="6.72" height="4.49" fill="#fff"/>
<rect x="84.88" y="788.11" width="6.49" height="4.49" fill="#fff"/>
<text transform="translate(107.9 867.1) scale(1 1.03)" font-size="29.8" fill="#4d4d4d" text-anchor="end">IFNγ</text>
<text transform="translate(107.9 942.4) scale(1 1.03)" font-size="29.8" fill="#4d4d4d" text-anchor="end">IL17</text>
<rect x="75.52" y="938.71" width="6.72" height="4.49" fill="#fff"/>
<rect x="84.88" y="938.71" width="6.49" height="4.49" fill="#fff"/>
<text transform="translate(107.9 1017.7) scale(1 1.03)" font-size="29.8" fill="#4d4d4d" text-anchor="end">IL5</text>
<text transform="translate(27.2 856.5) rotate(-90) scale(1 1.03)" font-size="36.9" fill="#000" text-anchor="middle">Cytokines</text>
<text transform="translate(129 1185) scale(1 1.03)" font-size="33.75" fill="#000">Geometric mean fold-differences in cytokines concentrations for R3R over C3C</text>
<clipPath id="cbAg"><rect x="126.5" y="1267.7" width="195" height="215.8"/></clipPath>
<g clip-path="url(#cbAg)">
<path d="M126.5 1496.6H321.5M126.5 1452.4H321.5M126.5 1408.2H321.5M126.5 1364H321.5M126.5 1319.8H321.5M126.5 1275.6H321.5" stroke="#ebebeb" stroke-width="1.95" fill="none"/>
<path d="M126.5 1474.5H321.5M126.5 1430.3H321.5M126.5 1386.1H321.5M126.5 1341.9H321.5M126.5 1297.7H321.5M178.75 1267.7V1483.5M270.5 1267.7V1483.5" stroke="#ebebeb" stroke-width="3.55" fill="none"/>
<rect x="133.5" y="1432" width="90.75" height="43" fill="#fff" stroke="#000" stroke-width="3.7"/>
<rect x="133.5" y="1455" width="90.75" height="20" fill="#a9a9a9" stroke="#000" stroke-width="3.7"/>
<rect x="224.25" y="1450" width="90.5" height="25" fill="#fff" stroke="#000" stroke-width="3.7"/>
<rect x="224.25" y="1460" width="90.5" height="15" fill="#a9a9a9" stroke="#000" stroke-width="3.7"/>
<path d="M178.75 1291.4L188.15 1300.75L178.75 1310.1L169.35 1300.75Z" fill="#ffffff" stroke="#009a63" stroke-width="3" stroke-linejoin="round"/>
<path d="M273.75 1291.3L283.25 1300.75L273.75 1310.2L264.25 1300.75Z" fill="#000000" stroke="#009a63" stroke-width="3" stroke-linejoin="round"/>
</g>
<rect x="125.25" y="1209.35" width="197.5" height="56.55" fill="#d9d9d9"/>
<rect x="125.25" y="1209.35" width="197.5" height="275.4" fill="none" stroke="#333333" stroke-width="2.5"/>
<path d="M124 1265.9H324" stroke="#333333" stroke-width="3.6"/>
<text transform="translate(224 1248) scale(1 1.03)" font-size="30" fill="#1a1a1a" text-anchor="middle">Age</text>
<path d="M178.75 1485.7V1494.4M270.5 1485.7V1494.4" stroke="#333333" stroke-width="3.5" fill="none"/>
<text transform="translate(159.3 1503.7) rotate(56.5) scale(1 1.03)" font-size="30.2" fill="#000">Children</text>
<text transform="translate(252.9 1506.6) rotate(56.5) scale(1 1.03)" font-size="30.2" fill="#000">Infants</text>
<clipPath id="cbSe"><rect x="343.6" y="1271" width="195.4" height="215.2"/></clipPath>
<g clip-path="url(#cbSe)">
<path d="M343.6 1499.85H539M343.6 1455.65H539M343.6 1411.45H539M343.6 1367.25H539M343.6 1323.05H539M343.6 1278.85H539" stroke="#ebebeb" stroke-width="1.95" fill="none"/>
<path d="M343.6 1477.75H539M343.6 1433.55H539M343.6 1389.35H539M343.6 1345.15H539M343.6 1300.95H539M395.75 1271V1486.2M486.75 1271V1486.2" stroke="#ebebeb" stroke-width="3.55" fill="none"/>
<rect x="350.75" y="1404.5" width="90" height="73.5" fill="#fff" stroke="#000" stroke-width="3.7"/>
<rect x="350.75" y="1445" width="90" height="33" fill="#a9a9a9" stroke="#000" stroke-width="3.7"/>
<rect x="440.75" y="1397" width="91.05" height="81" fill="#fff" stroke="#000" stroke-width="3.7"/>
<rect x="440.75" y="1432.9" width="91.05" height="45.1" fill="#a9a9a9" stroke="#000" stroke-width="3.7"/>
<path d="M396.25 1292.85L405.65 1302.2L396.25 1311.55L386.85 1302.2Z" fill="#ffffff" stroke="#009a63" stroke-width="3" stroke-linejoin="round"/>
<path d="M486.75 1293.35L496.25 1302.8L486.75 1312.25L477.25 1302.8Z" fill="#000000" stroke="#009a63" stroke-width="3" stroke-linejoin="round"/>
</g>
<rect x="341.8" y="1211.8" width="199" height="57.4" fill="#d9d9d9"/>
<rect x="341.8" y="1211.8" width="199" height="276.2" fill="none" stroke="#333333" stroke-width="3.6"/>
<path d="M340 1269.2H542.6" stroke="#333333" stroke-width="3.6"/>
<text transform="translate(441.3 1251.3) scale(1 1.03)" font-size="30" fill="#1a1a1a" text-anchor="middle">Sex</text>
<path d="M395.75 1489.5V1497.4M486.75 1489.5V1497.4" stroke="#333333" stroke-width="3.5" fill="none"/>
<text transform="translate(381.6 1508.5) rotate(56.5) scale(1 1.03)" font-size="30.2" fill="#000">Female</text>
<text transform="translate(478.5 1510.6) rotate(56.5) scale(1 1.03)" font-size="30.2" fill="#000">Male</text>
<clipPath id="cbSi"><rect x="557" y="1271" width="195.3" height="215.2"/></clipPath>
<g clip-path="url(#cbSi)">
<path d="M557 1499.85H752.3M557 1455.65H752.3M557 1411.45H752.3M557 1367.25H752.3M557 1323.05H752.3M557 1278.85H752.3" stroke="#ebebeb" stroke-width="1.95" fill="none"/>
<path d="M557 1477.75H752.3M557 1433.55H752.3M557 1389.35H752.3M557 1345.15H752.3M557 1300.95H752.3M609.2 1271V1486.2M700 1271V1486.2" stroke="#ebebeb" stroke-width="3.55" fill="none"/>
<rect x="564" y="1392.5" width="90.25" height="85.5" fill="#fff" stroke="#000" stroke-width="3.7"/>
<rect x="564" y="1435" width="90.25" height="43" fill="#a9a9a9" stroke="#000" stroke-width="3.7"/>
<rect x="654.25" y="1435.5" width="91" height="42.5" fill="#fff" stroke="#000" stroke-width="3.7"/>
<rect x="654.25" y="1458" width="91" height="20" fill="#a9a9a9" stroke="#000" stroke-width="3.7"/>
<path d="M609.25 1293.65L618.65 1303L609.25 1312.35L599.85 1303Z" fill="#ffffff" stroke="#009a63" stroke-width="3" stroke-linejoin="round"/>
<path d="M700.75 1293.05L710.25 1302.5L700.75 1311.95L691.25 1302.5Z" fill="#000000" stroke="#009a63" stroke-width="3" stroke-linejoin="round"/>
</g>
<rect x="555.2" y="1211.8" width="198.9" height="57.4" fill="#d9d9d9"/>
<rect x="555.2" y="1211.8" width="198.9" height="276.2" fill="none" stroke="#333333" stroke-width="3.6"/>
<path d="M553.4 1269.2H755.9" stroke="#333333" stroke-width="3.6"/>
<text transform="translate(654.65 1251.3) scale(1 1.03)" font-size="30" fill="#1a1a1a" text-anchor="middle">Site</text>
<path d="M609.2 1489.5V1497.4M700 1489.5V1497.4" stroke="#333333" stroke-width="3.5" fill="none"/>
<text transform="translate(568.4 1506.8) rotate(56.5) scale(1 1.03)" font-size="30.2" fill="#000">Bagamoyo</text>
<text transform="translate(678.2 1510.1) rotate(56.5) scale(1 1.03)" font-size="30.2" fill="#000">Manhiça</text>
<clipPath id="cbPr"><rect x="782.65" y="1270.3" width="195.4" height="214.95"/></clipPath>
<g clip-path="url(#cbPr)">
<path d="M782.65 1499.38H978.05M782.65 1455.22H978.05M782.65 1411.08H978.05M782.65 1366.92H978.05M782.65 1322.77H978.05M782.65 1278.62H978.05" stroke="#ebebeb" stroke-width="1.95" fill="none"/>
<path d="M782.65 1477.3H978.05M782.65 1433.15H978.05M782.65 1389H978.05M782.65 1344.85H978.05M782.65 1300.7H978.05M835 1270.3V1485.25M925.75 1270.3V1485.25" stroke="#ebebeb" stroke-width="3.55" fill="none"/>
<rect x="789.5" y="1337" width="91" height="140.4" fill="#fff" stroke="#000" stroke-width="3.7"/>
<rect x="789.5" y="1406.25" width="91" height="71.15" fill="#a9a9a9" stroke="#000" stroke-width="3.7"/>
<rect x="880.5" y="1464" width="90.3" height="13.4" fill="#fff" stroke="#000" stroke-width="3.7"/>
<rect x="880.5" y="1470.75" width="90.3" height="6.65" fill="#a9a9a9" stroke="#000" stroke-width="3.7"/>
<path d="M836.25 1291.9L845.65 1301.25L836.25 1310.6L826.85 1301.25Z" fill="#ffffff" stroke="#009a63" stroke-width="3" stroke-linejoin="round"/>
<path d="M919.5 1292.3L929 1301.75L919.5 1311.2L910 1301.75Z" fill="#000000" stroke="#009a63" stroke-width="3" stroke-linejoin="round"/>
</g>
<rect x="780.88" y="1210.88" width="198.95" height="57.63" fill="#d9d9d9"/>
<rect x="780.88" y="1210.88" width="198.95" height="276.15" fill="none" stroke="#333333" stroke-width="3.55"/>
<path d="M779.1 1268.5H981.6" stroke="#333333" stroke-width="3.6"/>
<text transform="translate(879.35 1250.1) scale(1 1.03)" font-size="29.7" fill="#1a1a1a" text-anchor="middle">Prior Exposure</text>
<path d="M835 1488.5V1496.4M925.75 1488.5V1496.4" stroke="#333333" stroke-width="3.5" fill="none"/>
<text transform="translate(814 1508.9) rotate(56.5) scale(1 1.03)" font-size="30.2" fill="#000">Not exposed</text>
<text transform="translate(903.3 1508.2) rotate(56.5) scale(1 1.03)" font-size="30.2" fill="#000">Exposed</text>
<clipPath id="cbAn"><rect x="991.75" y="1269.8" width="195.8" height="215.45"/></clipPath>
<g clip-path="url(#cbAn)">
<path d="M991.75 1499.03H1187.55M991.75 1454.78H1187.55M991.75 1410.53H1187.55M991.75 1366.28H1187.55M991.75 1322.03H1187.55M991.75 1277.78H1187.55" stroke="#ebebeb" stroke-width="1.95" fill="none"/>
<path d="M991.75 1476.9H1187.55M991.75 1432.65H1187.55M991.75 1388.4H1187.55M991.75 1344.15H1187.55M991.75 1299.9H1187.55M1044.3 1269.8V1485.25M1135 1269.8V1485.25" stroke="#ebebeb" stroke-width="3.55" fill="none"/>
<rect x="999.3" y="1363" width="90.45" height="114" fill="#fff" stroke="#000" stroke-width="3.7"/>
<rect x="999.3" y="1418.9" width="90.45" height="58.1" fill="#a9a9a9" stroke="#000" stroke-width="3.7"/>
<rect x="1089.75" y="1437" width="90.75" height="40" fill="#fff" stroke="#000" stroke-width="3.7"/>
<rect x="1089.75" y="1457" width="90.75" height="20" fill="#a9a9a9" stroke="#000" stroke-width="3.7"/>
<path d="M1040 1292.4L1049.4 1301.75L1040 1311.1L1030.6 1301.75Z" fill="#ffffff" stroke="#009a63" stroke-width="3" stroke-linejoin="round"/>
<path d="M1131.25 1292.3L1140.75 1301.75L1131.25 1311.2L1121.75 1301.75Z" fill="#000000" stroke="#009a63" stroke-width="3" stroke-linejoin="round"/>
</g>
<rect x="989.98" y="1210.68" width="199.35" height="57.32" fill="#d9d9d9"/>
<rect x="989.98" y="1210.68" width="199.35" height="276.35" fill="none" stroke="#333333" stroke-width="3.55"/>
<path d="M988.2 1268H1191.1" stroke="#333333" stroke-width="3.6"/>
<text transform="translate(1089.65 1249.5) scale(1 1.03)" font-size="29.8" fill="#1a1a1a" text-anchor="middle">Anemia</text>
<path d="M1044.3 1488.5V1496.4M1135 1488.5V1496.4" stroke="#333333" stroke-width="3.5" fill="none"/>
<text transform="translate(1037 1521.8) rotate(56.5) scale(1 1.03)" font-size="30.2" fill="#000">No</text>
<text transform="translate(1123.1 1512.7) rotate(56.5) scale(1 1.03)" font-size="30.2" fill="#000">Yes</text>
<clipPath id="cbWA"><rect x="1204.3" y="1268.9" width="195.25" height="215.65"/></clipPath>
<g clip-path="url(#cbWA)">
<path d="M1204.3 1498.1H1399.55M1204.3 1453.9H1399.55M1204.3 1409.7H1399.55M1204.3 1365.5H1399.55M1204.3 1321.3H1399.55M1204.3 1277.1H1399.55" stroke="#ebebeb" stroke-width="1.95" fill="none"/>
<path d="M1204.3 1476H1399.55M1204.3 1431.8H1399.55M1204.3 1387.6H1399.55M1204.3 1343.4H1399.55M1204.3 1299.2H1399.55M1256.25 1268.9V1484.55M1347 1268.9V1484.55" stroke="#ebebeb" stroke-width="3.55" fill="none"/>
<rect x="1211" y="1333" width="91.5" height="143.25" fill="#fff" stroke="#000" stroke-width="3.7"/>
<rect x="1211" y="1403.75" width="91.5" height="72.5" fill="#a9a9a9" stroke="#000" stroke-width="3.7"/>
<rect x="1302.5" y="1463.75" width="90.25" height="12.5" fill="#fff" stroke="#000" stroke-width="3.7"/>
<rect x="1302.5" y="1470" width="90.25" height="6.25" fill="#a9a9a9" stroke="#000" stroke-width="3.7"/>
<path d="M1258.75 1290.65L1268.15 1300L1258.75 1309.35L1249.35 1300Z" fill="#ffffff" stroke="#009a63" stroke-width="3" stroke-linejoin="round"/>
<path d="M1346.75 1291.05L1356.25 1300.5L1346.75 1309.95L1337.25 1300.5Z" fill="#000000" stroke="#009a63" stroke-width="3" stroke-linejoin="round"/>
</g>
<rect x="1203.2" y="1210" width="197.45" height="57.1" fill="#d9d9d9"/>
<rect x="1203.2" y="1210" width="197.45" height="275.65" fill="none" stroke="#333333" stroke-width="2.2"/>
<path d="M1202.1 1267.1H1401.75" stroke="#333333" stroke-width="3.6"/>
<text transform="translate(1301.92 1248.5) scale(1 1.03)" font-size="30" fill="#1a1a1a" text-anchor="middle">WAZ</text>
<path d="M1256.25 1486.45V1495.15M1347 1486.45V1495.15" stroke="#333333" stroke-width="3.5" fill="none"/>
<text transform="translate(1216.7 1508.9) rotate(56.5) scale(1 1.03)" font-size="30.2" fill="#000">Normal</text>
<text transform="translate(1330 1505.7) rotate(56.5) scale(1 1.03)" font-size="30.2" fill="#000">Underweight</text>
<path d="M116.1 1472L124.6 1474.6" stroke="#333333" stroke-width="3.3"/>
<text transform="translate(107.4 1484.8) scale(1 1.03)" font-size="30" fill="#4d4d4d" text-anchor="end">0</text>
<path d="M116.1 1427.8L124.6 1430.4" stroke="#333333" stroke-width="3.3"/>
<text transform="translate(107.4 1442.1) scale(1 1.03)" font-size="30" fill="#4d4d4d" text-anchor="end">100</text>
<rect x="58.13" y="1438.39" width="6.76" height="4.51" fill="#fff"/>
<rect x="67.54" y="1438.39" width="6.52" height="4.51" fill="#fff"/>
<path d="M116.1 1383.6L124.6 1386.2" stroke="#333333" stroke-width="3.3"/>
<text transform="translate(107.4 1397.6) scale(1 1.03)" font-size="30" fill="#4d4d4d" text-anchor="end">200</text>
<path d="M116.1 1339.4L124.6 1342" stroke="#333333" stroke-width="3.3"/>
<text transform="translate(107.4 1353.3) scale(1 1.03)" font-size="30" fill="#4d4d4d" text-anchor="end">300</text>
<path d="M116.1 1295.2L124.6 1297.8" stroke="#333333" stroke-width="3.3"/>
<text transform="translate(107.4 1309.4) scale(1 1.03)" font-size="30" fill="#4d4d4d" text-anchor="end">400</text>
<text transform="translate(29 1374.6) rotate(-90) scale(1 1.03)" font-size="37.1" fill="#000" text-anchor="middle">Sample Size</text>
<rect x="1143" y="1663" width="53.5" height="53.5" fill="#fff" stroke="#000" stroke-width="3.5"/>
<text transform="translate(1206 1700.6) scale(1 1.03)" font-size="29.8" fill="#000">C3C</text>
<rect x="1295.7" y="1667.4" width="53.2" height="53.2" fill="#a9a9a9" stroke="#000" stroke-width="3.9"/>
<text transform="translate(1358 1703) scale(1 1.03)" font-size="29.8" fill="#000">R3R</text>
</svg>
</body></html>
